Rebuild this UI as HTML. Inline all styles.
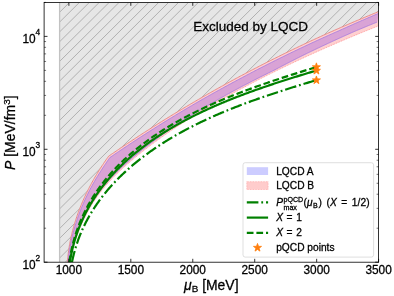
<!DOCTYPE html>
<html><head><meta charset="utf-8"><style>
html,body{margin:0;padding:0;background:#fff;}
text{stroke:#000;stroke-width:0.28px;paint-order:stroke;} svg{display:block;will-change:transform;transform:translateZ(0);font-family:"Liberation Sans",sans-serif;}
</style></head><body>
<svg width="394" height="296" viewBox="0 0 394 296">
<rect width="394" height="296" fill="#fff"/>
<defs><clipPath id="ax"><rect x="44.1" y="2.4" width="334.5" height="259.8"/></clipPath>
<clipPath id="gp"><path d="M59.60,262.20 L59.60,2.40 L378.60,2.40 L378.61,11.62 L377.18,12.20 L375.75,12.78 L374.32,13.36 L372.89,13.94 L371.46,14.53 L370.03,15.11 L368.60,15.70 L367.17,16.29 L365.75,16.88 L364.32,17.47 L362.90,18.06 L361.47,18.66 L360.05,19.26 L358.63,19.85 L357.20,20.45 L355.78,21.05 L354.36,21.66 L352.94,22.26 L351.52,22.87 L350.10,23.47 L348.68,24.08 L347.26,24.69 L345.85,25.30 L344.43,25.92 L343.02,26.53 L341.60,27.15 L340.19,27.77 L338.77,28.38 L337.36,29.00 L335.95,29.63 L334.54,30.25 L333.13,30.88 L331.72,31.50 L330.31,32.13 L328.90,32.76 L327.49,33.39 L326.08,34.02 L324.68,34.66 L323.27,35.29 L321.87,35.93 L320.46,36.57 L319.06,37.21 L317.65,37.85 L316.25,38.49 L314.85,39.14 L313.45,39.78 L312.05,40.43 L310.65,41.08 L309.25,41.73 L307.85,42.38 L306.46,43.04 L305.06,43.69 L303.66,44.35 L302.27,45.01 L300.87,45.67 L299.48,46.33 L298.09,46.99 L296.70,47.66 L295.31,48.32 L293.91,48.99 L292.52,49.66 L291.14,50.33 L289.75,51.00 L288.36,51.67 L286.97,52.35 L285.59,53.02 L284.20,53.70 L282.82,54.38 L281.43,55.06 L280.05,55.74 L278.67,56.43 L277.29,57.11 L275.91,57.80 L274.53,58.49 L273.15,59.17 L271.77,59.87 L270.39,60.56 L269.01,61.25 L267.64,61.95 L266.26,62.64 L264.89,63.34 L263.51,64.04 L262.14,64.75 L260.77,65.45 L259.40,66.15 L258.03,66.86 L256.66,67.57 L255.29,68.28 L253.92,68.99 L252.55,69.70 L251.19,70.41 L249.82,71.13 L248.45,71.84 L247.09,72.56 L245.73,73.28 L244.36,74.00 L243.00,74.72 L241.64,75.45 L240.28,76.17 L238.92,76.90 L237.56,77.63 L236.20,78.36 L234.85,79.09 L233.49,79.82 L232.14,80.56 L230.78,81.29 L229.43,82.03 L228.07,82.77 L226.72,83.51 L225.37,84.25 L224.02,84.99 L222.67,85.74 L221.32,86.48 L219.97,87.23 L218.63,87.98 L217.28,88.73 L215.93,89.48 L214.59,90.24 L213.25,90.99 L211.90,91.75 L210.56,92.51 L209.22,93.27 L207.88,94.03 L206.54,94.79 L205.20,95.56 L203.86,96.32 L202.53,97.09 L201.19,97.86 L199.85,98.63 L198.52,99.40 L197.19,100.17 L195.85,100.95 L194.52,101.72 L193.19,102.50 L191.86,103.28 L190.53,104.06 L189.20,104.84 L187.88,105.62 L186.55,106.41 L185.22,107.20 L183.90,107.98 L182.57,108.77 L181.25,109.56 L179.93,110.36 L178.61,111.15 L177.29,111.94 L175.97,112.74 L174.65,113.54 L173.33,114.34 L172.01,115.14 L170.70,115.94 L169.38,116.75 L168.07,117.55 L166.75,118.36 L165.44,119.17 L164.13,119.98 L162.82,120.79 L161.51,121.60 L160.20,122.42 L158.89,123.23 L157.59,124.05 L156.28,124.87 L154.97,125.69 L153.67,126.51 L152.37,127.34 L151.06,128.16 L149.76,128.99 L148.46,129.81 L147.16,130.64 L145.86,131.47 L144.57,132.31 L143.27,133.14 L141.97,133.98 L140.68,134.81 L139.38,135.65 L138.09,136.49 L136.80,137.33 L135.51,138.17 L134.22,139.02 L132.93,139.86 L131.64,140.71 L130.35,141.56 L129.06,142.41 L127.78,143.26 L126.49,144.11 L125.21,144.97 L123.93,145.82 L122.64,146.68 L121.36,147.54 L120.08,148.40 L118.80,149.26 L117.52,150.13 L116.25,150.99 L114.97,151.86 L113.70,152.72 L112.42,153.59 L111.15,154.46 L109.88,155.34 L108.61,156.20 L107.76,157.39 L106.92,158.58 L106.08,159.77 L105.25,160.97 L104.43,162.17 L103.61,163.38 L102.80,164.60 L102.00,165.81 L101.20,167.04 L100.41,168.26 L99.63,169.50 L98.85,170.73 L98.08,171.97 L97.32,173.22 L96.57,174.47 L95.82,175.72 L95.08,176.98 L94.35,178.24 L93.63,179.51 L92.91,180.78 L92.20,182.06 L91.50,183.34 L90.81,184.62 L90.12,185.91 L89.45,187.21 L88.78,188.50 L88.12,189.80 L87.47,191.11 L86.83,192.42 L86.19,193.73 L85.57,195.05 L84.95,196.37 L84.34,197.69 L83.74,199.02 L83.15,200.35 L82.57,201.69 L82.00,203.03 L81.44,204.37 L80.88,205.72 L80.34,207.07 L79.80,208.42 L79.28,209.78 L78.76,211.14 L78.26,212.51 L77.76,213.88 L77.28,215.25 L76.80,216.62 L76.34,218.00 L75.88,219.38 L75.44,220.77 L75.00,222.16 L74.58,223.55 L74.17,224.94 L73.76,226.34 L73.37,227.74 L72.99,229.14 L72.62,230.55 L72.26,231.96 L71.91,233.37 L71.58,234.79 L71.25,236.21 L70.93,237.63 L70.63,239.05 L70.34,240.48 L70.06,241.91 L69.79,243.34 L69.53,244.78 L69.29,246.22 L69.06,247.66 L68.84,249.10 L68.63,250.55 L68.43,252.00 L68.25,253.45 L68.07,254.90 L67.91,256.36 L67.77,257.81 L67.63,259.28 L67.51,260.74 L67.40,262.20Z"/></clipPath></defs>
<g clip-path="url(#ax)">
<path d="M59.60,262.20 L59.60,2.40 L378.60,2.40 L378.61,11.62 L377.18,12.20 L375.75,12.78 L374.32,13.36 L372.89,13.94 L371.46,14.53 L370.03,15.11 L368.60,15.70 L367.17,16.29 L365.75,16.88 L364.32,17.47 L362.90,18.06 L361.47,18.66 L360.05,19.26 L358.63,19.85 L357.20,20.45 L355.78,21.05 L354.36,21.66 L352.94,22.26 L351.52,22.87 L350.10,23.47 L348.68,24.08 L347.26,24.69 L345.85,25.30 L344.43,25.92 L343.02,26.53 L341.60,27.15 L340.19,27.77 L338.77,28.38 L337.36,29.00 L335.95,29.63 L334.54,30.25 L333.13,30.88 L331.72,31.50 L330.31,32.13 L328.90,32.76 L327.49,33.39 L326.08,34.02 L324.68,34.66 L323.27,35.29 L321.87,35.93 L320.46,36.57 L319.06,37.21 L317.65,37.85 L316.25,38.49 L314.85,39.14 L313.45,39.78 L312.05,40.43 L310.65,41.08 L309.25,41.73 L307.85,42.38 L306.46,43.04 L305.06,43.69 L303.66,44.35 L302.27,45.01 L300.87,45.67 L299.48,46.33 L298.09,46.99 L296.70,47.66 L295.31,48.32 L293.91,48.99 L292.52,49.66 L291.14,50.33 L289.75,51.00 L288.36,51.67 L286.97,52.35 L285.59,53.02 L284.20,53.70 L282.82,54.38 L281.43,55.06 L280.05,55.74 L278.67,56.43 L277.29,57.11 L275.91,57.80 L274.53,58.49 L273.15,59.17 L271.77,59.87 L270.39,60.56 L269.01,61.25 L267.64,61.95 L266.26,62.64 L264.89,63.34 L263.51,64.04 L262.14,64.75 L260.77,65.45 L259.40,66.15 L258.03,66.86 L256.66,67.57 L255.29,68.28 L253.92,68.99 L252.55,69.70 L251.19,70.41 L249.82,71.13 L248.45,71.84 L247.09,72.56 L245.73,73.28 L244.36,74.00 L243.00,74.72 L241.64,75.45 L240.28,76.17 L238.92,76.90 L237.56,77.63 L236.20,78.36 L234.85,79.09 L233.49,79.82 L232.14,80.56 L230.78,81.29 L229.43,82.03 L228.07,82.77 L226.72,83.51 L225.37,84.25 L224.02,84.99 L222.67,85.74 L221.32,86.48 L219.97,87.23 L218.63,87.98 L217.28,88.73 L215.93,89.48 L214.59,90.24 L213.25,90.99 L211.90,91.75 L210.56,92.51 L209.22,93.27 L207.88,94.03 L206.54,94.79 L205.20,95.56 L203.86,96.32 L202.53,97.09 L201.19,97.86 L199.85,98.63 L198.52,99.40 L197.19,100.17 L195.85,100.95 L194.52,101.72 L193.19,102.50 L191.86,103.28 L190.53,104.06 L189.20,104.84 L187.88,105.62 L186.55,106.41 L185.22,107.20 L183.90,107.98 L182.57,108.77 L181.25,109.56 L179.93,110.36 L178.61,111.15 L177.29,111.94 L175.97,112.74 L174.65,113.54 L173.33,114.34 L172.01,115.14 L170.70,115.94 L169.38,116.75 L168.07,117.55 L166.75,118.36 L165.44,119.17 L164.13,119.98 L162.82,120.79 L161.51,121.60 L160.20,122.42 L158.89,123.23 L157.59,124.05 L156.28,124.87 L154.97,125.69 L153.67,126.51 L152.37,127.34 L151.06,128.16 L149.76,128.99 L148.46,129.81 L147.16,130.64 L145.86,131.47 L144.57,132.31 L143.27,133.14 L141.97,133.98 L140.68,134.81 L139.38,135.65 L138.09,136.49 L136.80,137.33 L135.51,138.17 L134.22,139.02 L132.93,139.86 L131.64,140.71 L130.35,141.56 L129.06,142.41 L127.78,143.26 L126.49,144.11 L125.21,144.97 L123.93,145.82 L122.64,146.68 L121.36,147.54 L120.08,148.40 L118.80,149.26 L117.52,150.13 L116.25,150.99 L114.97,151.86 L113.70,152.72 L112.42,153.59 L111.15,154.46 L109.88,155.34 L108.61,156.20 L107.76,157.39 L106.92,158.58 L106.08,159.77 L105.25,160.97 L104.43,162.17 L103.61,163.38 L102.80,164.60 L102.00,165.81 L101.20,167.04 L100.41,168.26 L99.63,169.50 L98.85,170.73 L98.08,171.97 L97.32,173.22 L96.57,174.47 L95.82,175.72 L95.08,176.98 L94.35,178.24 L93.63,179.51 L92.91,180.78 L92.20,182.06 L91.50,183.34 L90.81,184.62 L90.12,185.91 L89.45,187.21 L88.78,188.50 L88.12,189.80 L87.47,191.11 L86.83,192.42 L86.19,193.73 L85.57,195.05 L84.95,196.37 L84.34,197.69 L83.74,199.02 L83.15,200.35 L82.57,201.69 L82.00,203.03 L81.44,204.37 L80.88,205.72 L80.34,207.07 L79.80,208.42 L79.28,209.78 L78.76,211.14 L78.26,212.51 L77.76,213.88 L77.28,215.25 L76.80,216.62 L76.34,218.00 L75.88,219.38 L75.44,220.77 L75.00,222.16 L74.58,223.55 L74.17,224.94 L73.76,226.34 L73.37,227.74 L72.99,229.14 L72.62,230.55 L72.26,231.96 L71.91,233.37 L71.58,234.79 L71.25,236.21 L70.93,237.63 L70.63,239.05 L70.34,240.48 L70.06,241.91 L69.79,243.34 L69.53,244.78 L69.29,246.22 L69.06,247.66 L68.84,249.10 L68.63,250.55 L68.43,252.00 L68.25,253.45 L68.07,254.90 L67.91,256.36 L67.77,257.81 L67.63,259.28 L67.51,260.74 L67.40,262.20Z" fill="#e6e6e6"/>
<g clip-path="url(#gp)"><path d="M-280.04,300 L32.48,-10 M-270.13,300 L42.39,-10 M-260.22,300 L52.30,-10 M-250.31,300 L62.21,-10 M-240.40,300 L72.12,-10 M-230.49,300 L82.03,-10 M-220.58,300 L91.94,-10 M-210.67,300 L101.85,-10 M-200.76,300 L111.76,-10 M-190.85,300 L121.67,-10 M-180.94,300 L131.58,-10 M-171.03,300 L141.49,-10 M-161.12,300 L151.40,-10 M-151.21,300 L161.31,-10 M-141.30,300 L171.22,-10 M-131.39,300 L181.13,-10 M-121.48,300 L191.04,-10 M-111.57,300 L200.95,-10 M-101.66,300 L210.86,-10 M-91.75,300 L220.77,-10 M-81.84,300 L230.68,-10 M-71.93,300 L240.59,-10 M-62.02,300 L250.50,-10 M-52.11,300 L260.41,-10 M-42.20,300 L270.32,-10 M-32.29,300 L280.23,-10 M-22.38,300 L290.14,-10 M-12.47,300 L300.05,-10 M-2.56,300 L309.96,-10 M7.35,300 L319.87,-10 M17.26,300 L329.78,-10 M27.17,300 L339.69,-10 M37.08,300 L349.60,-10 M46.99,300 L359.51,-10 M56.90,300 L369.42,-10 M66.81,300 L379.33,-10 M76.72,300 L389.24,-10 M86.63,300 L399.15,-10 M96.54,300 L409.06,-10 M106.45,300 L418.97,-10 M116.36,300 L428.88,-10 M126.27,300 L438.79,-10 M136.18,300 L448.70,-10 M146.09,300 L458.61,-10 M156.00,300 L468.52,-10 M165.91,300 L478.43,-10 M175.82,300 L488.34,-10 M185.73,300 L498.25,-10 M195.64,300 L508.16,-10 M205.55,300 L518.07,-10 M215.46,300 L527.98,-10 M225.37,300 L537.89,-10 M235.28,300 L547.80,-10 M245.19,300 L557.71,-10 M255.10,300 L567.62,-10 M265.01,300 L577.53,-10 M274.92,300 L587.44,-10 M284.83,300 L597.35,-10 M294.74,300 L607.26,-10 M304.65,300 L617.17,-10 M314.56,300 L627.08,-10 M324.47,300 L636.99,-10 M334.38,300 L646.90,-10 M344.29,300 L656.81,-10 M354.20,300 L666.72,-10 M364.11,300 L676.63,-10 M374.02,300 L686.54,-10 M383.93,300 L696.45,-10 M393.84,300 L706.36,-10 M403.75,300 L716.27,-10 M413.66,300 L726.18,-10 M423.57,300 L736.09,-10 M433.48,300 L746.00,-10 M443.39,300 L755.91,-10 M453.30,300 L765.82,-10" stroke="#858585" stroke-width="0.55" fill="none"/></g>
<path d="M59.6,262.2 V2.4" stroke="#c2c2c2" stroke-width="1.3" fill="none"/>
<path d="M67.40,262.20 L67.51,260.74 L67.63,259.28 L67.77,257.81 L67.91,256.36 L68.07,254.90 L68.25,253.45 L68.43,252.00 L68.63,250.55 L68.84,249.10 L69.06,247.66 L69.29,246.22 L69.53,244.78 L69.79,243.34 L70.06,241.91 L70.34,240.48 L70.63,239.05 L70.93,237.63 L71.25,236.21 L71.58,234.79 L71.91,233.37 L72.26,231.96 L72.62,230.55 L72.99,229.14 L73.37,227.74 L73.76,226.34 L74.17,224.94 L74.58,223.55 L75.00,222.16 L75.44,220.77 L75.88,219.38 L76.34,218.00 L76.80,216.62 L77.28,215.25 L77.76,213.88 L78.26,212.51 L78.76,211.14 L79.28,209.78 L79.80,208.42 L80.34,207.07 L80.88,205.72 L81.44,204.37 L82.00,203.03 L82.57,201.69 L83.15,200.35 L83.74,199.02 L84.34,197.69 L84.95,196.37 L85.57,195.05 L86.19,193.73 L86.83,192.42 L87.47,191.11 L88.12,189.80 L88.78,188.50 L89.45,187.21 L90.12,185.91 L90.81,184.62 L91.50,183.34 L92.20,182.06 L92.91,180.78 L93.63,179.51 L94.35,178.24 L95.08,176.98 L95.82,175.72 L96.57,174.47 L97.32,173.22 L98.08,171.97 L98.85,170.73 L99.63,169.50 L100.41,168.26 L101.20,167.04 L102.00,165.81 L102.80,164.60 L103.61,163.38 L104.43,162.17 L105.25,160.97 L106.08,159.77 L106.92,158.58 L107.76,157.39 L108.61,156.20 L109.88,155.34 L111.15,154.46 L112.42,153.59 L113.70,152.72 L114.97,151.86 L116.25,150.99 L117.52,150.13 L118.80,149.26 L120.08,148.40 L121.36,147.54 L122.64,146.68 L123.93,145.82 L125.21,144.97 L126.49,144.11 L127.78,143.26 L129.06,142.41 L130.35,141.56 L131.64,140.71 L132.93,139.86 L134.22,139.02 L135.51,138.17 L136.80,137.33 L138.09,136.49 L139.38,135.65 L140.68,134.81 L141.97,133.98 L143.27,133.14 L144.57,132.31 L145.86,131.47 L147.16,130.64 L148.46,129.81 L149.76,128.99 L151.06,128.16 L152.37,127.34 L153.67,126.51 L154.97,125.69 L156.28,124.87 L157.59,124.05 L158.89,123.23 L160.20,122.42 L161.51,121.60 L162.82,120.79 L164.13,119.98 L165.44,119.17 L166.75,118.36 L168.07,117.55 L169.38,116.75 L170.70,115.94 L172.01,115.14 L173.33,114.34 L174.65,113.54 L175.97,112.74 L177.29,111.94 L178.61,111.15 L179.93,110.36 L181.25,109.56 L182.57,108.77 L183.90,107.98 L185.22,107.20 L186.55,106.41 L187.88,105.62 L189.20,104.84 L190.53,104.06 L191.86,103.28 L193.19,102.50 L194.52,101.72 L195.85,100.95 L197.19,100.17 L198.52,99.40 L199.85,98.63 L201.19,97.86 L202.53,97.09 L203.86,96.32 L205.20,95.56 L206.54,94.79 L207.88,94.03 L209.22,93.27 L210.56,92.51 L211.90,91.75 L213.25,90.99 L214.59,90.24 L215.93,89.48 L217.28,88.73 L218.63,87.98 L219.97,87.23 L221.32,86.48 L222.67,85.74 L224.02,84.99 L225.37,84.25 L226.72,83.51 L228.07,82.77 L229.43,82.03 L230.78,81.29 L232.14,80.56 L233.49,79.82 L234.85,79.09 L236.20,78.36 L237.56,77.63 L238.92,76.90 L240.28,76.17 L241.64,75.45 L243.00,74.72 L244.36,74.00 L245.73,73.28 L247.09,72.56 L248.45,71.84 L249.82,71.13 L251.19,70.41 L252.55,69.70 L253.92,68.99 L255.29,68.28 L256.66,67.57 L258.03,66.86 L259.40,66.15 L260.77,65.45 L262.14,64.75 L263.51,64.04 L264.89,63.34 L266.26,62.64 L267.64,61.95 L269.01,61.25 L270.39,60.56 L271.77,59.87 L273.15,59.17 L274.53,58.49 L275.91,57.80 L277.29,57.11 L278.67,56.43 L280.05,55.74 L281.43,55.06 L282.82,54.38 L284.20,53.70 L285.59,53.02 L286.97,52.35 L288.36,51.67 L289.75,51.00 L291.14,50.33 L292.52,49.66 L293.91,48.99 L295.31,48.32 L296.70,47.66 L298.09,46.99 L299.48,46.33 L300.87,45.67 L302.27,45.01 L303.66,44.35 L305.06,43.69 L306.46,43.04 L307.85,42.38 L309.25,41.73 L310.65,41.08 L312.05,40.43 L313.45,39.78 L314.85,39.14 L316.25,38.49 L317.65,37.85 L319.06,37.21 L320.46,36.57 L321.87,35.93 L323.27,35.29 L324.68,34.66 L326.08,34.02 L327.49,33.39 L328.90,32.76 L330.31,32.13 L331.72,31.50 L333.13,30.88 L334.54,30.25 L335.95,29.63 L337.36,29.00 L338.77,28.38 L340.19,27.77 L341.60,27.15 L343.02,26.53 L344.43,25.92 L345.85,25.30 L347.26,24.69 L348.68,24.08 L350.10,23.47 L351.52,22.87 L352.94,22.26 L354.36,21.66 L355.78,21.05 L357.20,20.45 L358.63,19.85 L360.05,19.26 L361.47,18.66 L362.90,18.06 L364.32,17.47 L365.75,16.88 L367.17,16.29 L368.60,15.70 L370.03,15.11 L371.46,14.53 L372.89,13.94 L374.32,13.36 L375.75,12.78 L377.18,12.20 L378.61,11.62 L378.60,25.80 L377.66,26.17 L376.72,26.55 L375.77,26.92 L374.83,27.30 L373.89,27.67 L372.95,28.05 L372.01,28.42 L371.07,28.80 L370.13,29.18 L369.18,29.56 L368.24,29.94 L367.30,30.32 L366.37,30.70 L365.43,31.08 L364.49,31.46 L363.55,31.84 L362.61,32.22 L361.67,32.61 L360.73,32.99 L359.80,33.37 L358.86,33.76 L357.92,34.14 L356.98,34.53 L356.05,34.92 L355.11,35.30 L354.18,35.69 L353.24,36.08 L352.30,36.47 L351.37,36.86 L350.43,37.25 L349.50,37.64 L348.57,38.03 L347.63,38.42 L346.70,38.82 L345.77,39.21 L344.83,39.60 L343.90,40.00 L342.97,40.39 L342.04,40.79 L341.10,41.19 L340.17,41.58 L339.24,41.98 L338.31,42.38 L337.38,42.78 L336.45,43.18 L335.52,43.58 L334.59,43.98 L333.66,44.38 L332.73,44.78 L331.80,45.19 L330.87,45.59 L329.94,45.99 L329.02,46.40 L328.09,46.80 L327.16,47.21 L326.24,47.62 L325.31,48.02 L324.38,48.43 L323.46,48.84 L322.53,49.25 L321.61,49.66 L320.68,50.07 L319.76,50.48 L318.83,50.89 L317.91,51.31 L316.98,51.72 L316.06,52.13 L315.14,52.55 L314.21,52.96 L313.29,53.38 L312.37,53.80 L311.45,54.22 L310.53,54.63 L309.60,55.05 L308.68,55.47 L307.76,55.89 L306.84,56.31 L305.92,56.74 L305.00,57.16 L304.08,57.58 L303.17,58.00 L302.25,58.43 L301.33,58.85 L300.41,59.28 L299.49,59.71 L298.58,60.13 L297.66,60.56 L296.74,60.99 L295.83,61.42 L294.91,61.85 L294.00,62.28 L293.08,62.71 L292.17,63.15 L291.25,63.58 L290.34,64.01 L289.42,64.45 L288.51,64.88 L287.60,65.32 L286.69,65.76 L285.77,66.19 L284.86,66.63 L283.95,67.07 L283.04,67.51 L282.13,67.95 L281.22,68.39 L280.31,68.84 L279.40,69.28 L278.49,69.72 L277.58,70.17 L276.67,70.61 L275.76,71.06 L274.85,71.50 L273.95,71.95 L273.04,72.40 L272.13,72.85 L271.22,73.30 L270.32,73.75 L269.41,74.20 L268.51,74.65 L267.60,75.11 L266.70,75.56 L265.79,76.01 L264.89,76.47 L263.99,76.93 L263.08,77.38 L262.18,77.84 L261.28,78.30 L260.38,78.76 L259.47,79.22 L258.57,79.68 L257.67,80.14 L256.77,80.60 L255.87,81.07 L254.97,81.53 L254.07,81.99 L253.17,82.46 L252.27,82.93 L251.38,83.39 L250.48,83.86 L249.58,84.33 L248.68,84.80 L247.79,85.27 L246.89,85.74 L245.99,86.22 L245.10,86.69 L244.20,87.16 L243.31,87.64 L242.41,88.11 L241.52,88.59 L240.63,89.07 L239.73,89.54 L238.84,90.02 L237.95,90.50 L237.06,90.98 L236.16,91.47 L235.27,91.95 L234.38,92.43 L233.49,92.92 L232.60,93.40 L231.71,93.89 L230.82,94.37 L229.94,94.86 L229.05,95.35 L228.16,95.84 L227.27,96.33 L226.39,96.82 L225.50,97.31 L224.61,97.81 L223.73,98.30 L222.84,98.79 L221.96,99.29 L221.08,99.79 L220.19,100.29 L219.31,100.78 L218.43,101.28 L217.55,101.79 L216.67,102.29 L215.79,102.79 L214.91,103.30 L214.03,103.80 L213.15,104.31 L212.27,104.81 L211.39,105.32 L210.52,105.83 L209.64,106.34 L208.77,106.86 L207.89,107.37 L207.02,107.88 L206.15,108.40 L205.27,108.91 L204.40,109.43 L203.53,109.95 L202.66,110.47 L201.79,110.99 L200.92,111.51 L200.05,112.04 L199.19,112.56 L198.32,113.09 L197.45,113.61 L196.59,114.14 L195.72,114.67 L194.86,115.20 L194.00,115.74 L193.14,116.27 L192.28,116.80 L191.42,117.34 L190.56,117.88 L189.70,118.41 L188.84,118.95 L187.98,119.50 L187.13,120.04 L186.27,120.58 L185.42,121.13 L184.57,121.67 L183.72,122.22 L182.86,122.77 L182.01,123.32 L181.16,123.87 L180.32,124.43 L179.47,124.98 L178.62,125.54 L177.78,126.10 L176.93,126.66 L176.09,127.22 L175.25,127.78 L174.41,128.34 L173.57,128.91 L172.73,129.47 L171.89,130.04 L171.05,130.61 L170.22,131.18 L169.38,131.76 L168.55,132.33 L167.71,132.91 L166.88,133.48 L166.05,134.06 L165.22,134.64 L164.39,135.22 L163.57,135.81 L162.74,136.39 L161.92,136.98 L161.09,137.57 L160.27,138.16 L159.45,138.75 L158.63,139.34 L157.81,139.94 L156.99,140.53 L156.18,141.13 L155.36,141.73 L154.55,142.33 L153.73,142.94 L152.92,143.54 L152.11,144.15 L151.30,144.76 L150.49,145.37 L149.69,145.98 L148.88,146.59 L148.08,147.21 L147.28,147.83 L146.48,148.45 L145.68,149.07 L144.88,149.69 L144.08,150.31 L143.28,150.94 L142.49,151.57 L141.70,152.20 L140.90,152.83 L140.11,153.46 L139.33,154.10 L138.54,154.73 L137.75,155.37 L136.97,156.01 L136.18,156.66 L135.40,157.30 L134.62,157.95 L133.84,158.60 L133.07,159.25 L132.29,159.90 L131.52,160.55 L130.74,161.21 L129.97,161.87 L129.20,162.53 L128.44,163.19 L127.67,163.86 L126.90,164.52 L126.14,165.19 L125.38,165.86 L124.62,166.54 L123.87,167.21 L123.11,167.89 L122.36,168.57 L121.62,169.26 L120.87,169.94 L120.13,170.63 L119.39,171.33 L118.65,172.02 L117.92,172.72 L117.19,173.42 L116.46,174.13 L115.74,174.84 L115.02,175.55 L114.31,176.27 L113.59,176.99 L112.89,177.71 L112.18,178.44 L111.48,179.17 L110.79,179.90 L110.10,180.64 L109.41,181.38 L108.73,182.13 L108.06,182.88 L107.38,183.64 L106.72,184.39 L106.06,185.16 L105.40,185.93 L104.75,186.70 L104.10,187.48 L103.46,188.26 L102.83,189.05 L102.20,189.84 L101.57,190.63 L100.96,191.43 L100.34,192.23 L99.73,193.04 L99.13,193.85 L98.53,194.67 L97.94,195.49 L97.35,196.31 L96.77,197.14 L96.19,197.97 L95.62,198.80 L95.05,199.64 L94.49,200.48 L93.94,201.33 L93.39,202.18 L92.84,203.04 L92.30,203.89 L91.77,204.75 L91.24,205.62 L90.72,206.49 L90.20,207.36 L89.68,208.23 L89.18,209.11 L88.67,209.99 L88.18,210.87 L87.68,211.76 L87.20,212.65 L86.72,213.55 L86.24,214.44 L85.77,215.34 L85.31,216.24 L84.85,217.15 L84.39,218.06 L83.94,218.97 L83.50,219.88 L83.06,220.80 L82.63,221.72 L82.20,222.64 L81.78,223.57 L81.36,224.50 L80.95,225.43 L80.54,226.36 L80.14,227.29 L79.75,228.23 L79.36,229.17 L78.97,230.11 L78.59,231.06 L78.22,232.00 L77.85,232.95 L77.49,233.90 L77.13,234.85 L76.78,235.81 L76.43,236.77 L76.09,237.73 L75.75,238.69 L75.42,239.65 L75.10,240.61 L74.78,241.58 L74.46,242.55 L74.16,243.52 L73.85,244.49 L73.55,245.46 L73.26,246.44 L72.97,247.41 L72.69,248.39 L72.41,249.37 L72.14,250.35 L71.88,251.33 L71.62,252.31 L71.36,253.30 L71.11,254.28 L70.87,255.27 L70.63,256.26 L70.40,257.25 L70.17,258.24 L69.95,259.23 L69.73,260.22 L69.52,261.21 L69.31,262.21Z" fill="#ffd0d0"/>
<path d="M68.13,262.26 L68.24,260.80 L68.37,259.34 L68.51,257.89 L68.67,256.44 L68.84,254.99 L69.02,253.54 L69.21,252.10 L69.42,250.66 L69.64,249.22 L69.88,247.79 L70.12,246.36 L70.38,244.93 L70.65,243.50 L70.94,242.08 L71.23,240.66 L71.54,239.24 L71.86,237.83 L72.19,236.42 L72.54,235.01 L72.89,233.61 L73.26,232.21 L73.64,230.81 L74.03,229.42 L74.43,228.03 L74.84,226.65 L75.27,225.26 L75.70,223.88 L76.15,222.51 L76.59,221.13 L77.04,219.76 L77.51,218.39 L77.98,217.02 L78.46,215.66 L78.96,214.30 L79.46,212.95 L79.97,211.60 L80.50,210.25 L81.03,208.90 L81.57,207.56 L82.12,206.22 L82.69,204.89 L83.26,203.56 L83.84,202.24 L84.43,200.91 L85.03,199.60 L85.64,198.28 L86.25,196.97 L86.88,195.67 L87.52,194.37 L88.16,193.07 L88.81,191.77 L89.47,190.48 L90.14,189.20 L90.82,187.92 L91.51,186.64 L92.20,185.37 L92.90,184.10 L93.61,182.84 L94.33,181.58 L95.06,180.32 L95.79,179.07 L96.54,177.83 L97.28,176.59 L98.04,175.35 L98.81,174.12 L99.58,172.89 L100.36,171.67 L101.14,170.45 L101.93,169.23 L102.71,168.02 L103.50,166.80 L104.30,165.59 L105.11,164.39 L105.92,163.19 L106.74,161.99 L107.56,160.80 L108.39,159.62 L109.23,158.44 L109.86,157.50 L110.90,156.83 L112.17,155.96 L113.44,155.09 L114.72,154.22 L115.99,153.36 L117.27,152.49 L118.54,151.63 L119.82,150.77 L121.10,149.91 L122.38,149.05 L123.66,148.20 L124.94,147.34 L126.22,146.49 L127.50,145.63 L128.79,144.78 L130.07,143.93 L131.36,143.09 L132.64,142.24 L133.93,141.40 L135.22,140.55 L136.51,139.71 L137.80,138.87 L139.09,138.03 L140.38,137.19 L141.68,136.36 L142.97,135.52 L144.27,134.69 L145.56,133.86 L146.86,133.03 L148.16,132.20 L149.46,131.37 L150.75,130.55 L152.06,129.72 L153.36,128.90 L154.66,128.08 L155.96,127.26 L157.27,126.44 L158.57,125.63 L159.88,124.81 L161.18,124.00 L162.49,123.18 L163.80,122.37 L165.11,121.56 L166.42,120.76 L167.73,119.95 L169.05,119.15 L170.36,118.34 L171.67,117.54 L172.99,116.74 L174.30,115.94 L175.62,115.14 L176.94,114.35 L178.26,113.55 L179.58,112.76 L180.90,111.97 L182.22,111.18 L183.54,110.39 L184.86,109.60 L186.19,108.82 L187.51,108.03 L188.84,107.25 L190.16,106.47 L191.49,105.69 L192.82,104.91 L194.15,104.13 L195.48,103.36 L196.81,102.58 L198.14,101.81 L199.47,101.04 L200.80,100.27 L202.14,99.51 L203.48,98.75 L204.82,97.99 L206.16,97.23 L207.50,96.47 L208.84,95.71 L210.18,94.96 L211.52,94.21 L212.87,93.46 L214.21,92.71 L215.56,91.96 L216.90,91.21 L218.25,90.47 L219.60,89.72 L220.94,88.98 L222.29,88.24 L223.64,87.50 L225.00,86.76 L226.35,86.03 L227.70,85.29 L229.05,84.56 L230.41,83.83 L231.76,83.10 L233.12,82.37 L234.47,81.64 L235.83,80.91 L237.19,80.19 L238.55,79.47 L239.91,78.75 L241.27,78.03 L242.63,77.30 L243.99,76.58 L245.35,75.86 L246.71,75.14 L248.07,74.42 L249.43,73.71 L250.80,72.99 L252.16,72.28 L253.53,71.57 L254.89,70.86 L256.26,70.15 L257.63,69.45 L259.00,68.74 L260.37,68.04 L261.74,67.34 L263.11,66.63 L264.48,65.94 L265.85,65.24 L267.22,64.54 L268.60,63.85 L269.97,63.15 L271.35,62.46 L272.72,61.77 L274.10,61.08 L275.48,60.39 L276.86,59.71 L278.24,59.02 L279.62,58.34 L281.00,57.66 L282.38,56.98 L283.76,56.30 L285.14,55.63 L286.53,54.95 L287.91,54.28 L289.30,53.60 L290.68,52.93 L292.07,52.26 L293.46,51.60 L294.85,50.93 L296.24,50.26 L297.63,49.60 L299.02,48.94 L300.41,48.28 L301.80,47.62 L303.19,46.96 L304.59,46.31 L305.98,45.65 L307.38,45.00 L308.77,44.35 L310.17,43.70 L311.56,43.05 L312.96,42.40 L314.36,41.76 L315.76,41.11 L317.16,40.47 L318.56,39.83 L319.96,39.19 L321.36,38.55 L322.77,37.92 L324.17,37.28 L325.58,36.65 L326.98,36.02 L328.39,35.39 L329.79,34.76 L331.20,34.13 L332.61,33.50 L334.02,32.88 L335.42,32.26 L336.83,31.64 L338.25,31.02 L339.66,30.40 L341.07,29.78 L342.47,29.14 L343.87,28.51 L345.28,27.87 L346.68,27.24 L348.09,26.61 L349.50,25.98 L350.91,25.35 L352.31,24.73 L353.72,24.10 L355.13,23.48 L356.54,22.85 L357.95,22.23 L359.37,21.61 L360.78,21.00 L362.19,20.38 L363.61,19.77 L365.02,19.15 L366.44,18.54 L367.85,17.93 L369.27,17.32 L370.69,16.72 L372.11,16.11 L373.52,15.51 L374.94,14.90 L376.36,14.30 L377.79,13.70 L379.21,13.10 L377.13,22.08 L376.19,22.46 L375.25,22.84 L374.30,23.23 L373.36,23.61 L372.42,23.99 L371.48,24.38 L370.54,24.76 L369.60,25.15 L368.66,25.54 L367.72,25.92 L366.78,26.31 L365.84,26.70 L364.90,27.09 L363.96,27.47 L363.03,27.86 L362.09,28.25 L361.15,28.65 L360.21,29.04 L359.28,29.43 L358.34,29.82 L357.40,30.21 L356.47,30.61 L355.53,31.00 L354.59,31.40 L353.66,31.79 L352.73,32.20 L351.80,32.61 L350.87,33.03 L349.94,33.44 L349.02,33.85 L348.09,34.27 L347.16,34.68 L346.23,35.10 L345.31,35.51 L344.38,35.93 L343.46,36.35 L342.53,36.77 L341.61,37.18 L340.68,37.60 L339.76,38.02 L338.83,38.44 L337.91,38.86 L336.98,39.28 L336.06,39.71 L335.14,40.13 L334.22,40.55 L333.29,40.98 L332.37,41.40 L331.45,41.83 L330.53,42.25 L329.61,42.68 L328.69,43.11 L327.77,43.53 L326.85,43.96 L325.93,44.39 L325.01,44.82 L324.09,45.25 L323.17,45.68 L322.25,46.11 L321.33,46.55 L320.42,46.98 L319.50,47.41 L318.58,47.85 L317.67,48.28 L316.75,48.72 L315.83,49.15 L314.92,49.59 L314.00,50.03 L313.09,50.47 L312.17,50.91 L311.26,51.35 L310.35,51.79 L309.43,52.23 L308.52,52.67 L307.61,53.11 L306.69,53.55 L305.78,54.00 L304.87,54.44 L303.96,54.89 L303.05,55.34 L302.14,55.79 L301.24,56.24 L300.33,56.70 L299.42,57.15 L298.52,57.61 L297.61,58.06 L296.70,58.52 L295.80,58.98 L294.89,59.43 L293.99,59.89 L293.09,60.35 L292.18,60.81 L291.28,61.27 L290.38,61.73 L289.47,62.20 L288.57,62.66 L287.67,63.12 L286.77,63.59 L285.87,64.05 L284.97,64.52 L284.07,64.98 L283.17,65.45 L282.27,65.92 L281.37,66.39 L280.47,66.86 L279.57,67.33 L278.68,67.80 L277.78,68.27 L276.88,68.74 L275.98,69.22 L275.09,69.69 L274.19,70.16 L273.28,70.60 L272.37,71.05 L271.46,71.49 L270.55,71.94 L269.64,72.39 L268.73,72.83 L267.82,73.28 L266.91,73.73 L266.01,74.18 L265.10,74.63 L264.19,75.08 L263.28,75.54 L262.38,75.99 L261.47,76.45 L260.57,76.90 L259.66,77.36 L258.76,77.81 L257.85,78.27 L256.95,78.73 L256.04,79.19 L255.14,79.65 L254.24,80.11 L253.33,80.57 L252.43,81.03 L251.53,81.50 L250.63,81.96 L249.73,82.42 L248.83,82.89 L247.93,83.36 L247.03,83.82 L246.13,84.29 L245.23,84.76 L244.33,85.23 L243.43,85.70 L242.53,86.17 L241.63,86.64 L240.74,87.12 L239.84,87.59 L238.94,88.07 L238.05,88.54 L237.15,89.02 L236.25,89.50 L235.36,89.98 L234.46,90.45 L233.57,90.94 L232.68,91.42 L231.79,91.91 L230.90,92.40 L230.01,92.89 L229.12,93.38 L228.23,93.87 L227.35,94.36 L226.46,94.86 L225.57,95.35 L224.68,95.84 L223.80,96.34 L222.91,96.84 L222.03,97.33 L221.14,97.83 L220.26,98.33 L219.37,98.83 L218.49,99.33 L217.61,99.84 L216.72,100.34 L215.84,100.85 L214.96,101.35 L214.08,101.86 L213.20,102.37 L212.32,102.87 L211.44,103.38 L210.57,103.90 L209.69,104.41 L208.81,104.92 L207.94,105.44 L207.06,105.95 L206.19,106.47 L205.31,106.99 L204.44,107.51 L203.57,108.03 L202.69,108.55 L201.82,109.07 L200.95,109.59 L200.08,110.12 L199.21,110.64 L198.34,111.17 L197.48,111.70 L196.61,112.23 L195.74,112.76 L194.88,113.29 L194.01,113.83 L193.15,114.36 L192.29,114.90 L191.43,115.44 L190.56,115.97 L189.70,116.51 L188.84,117.06 L187.99,117.60 L187.13,118.14 L186.27,118.69 L185.42,119.24 L184.56,119.78 L183.71,120.33 L182.85,120.88 L182.00,121.44 L181.15,121.99 L180.30,122.54 L179.45,123.10 L178.60,123.66 L177.75,124.22 L176.91,124.78 L176.06,125.34 L175.22,125.91 L174.37,126.47 L173.53,127.04 L172.69,127.61 L171.85,128.18 L171.01,128.75 L170.17,129.32 L169.33,129.89 L168.50,130.47 L167.66,131.05 L166.83,131.62 L165.99,132.21 L165.16,132.79 L164.33,133.37 L163.50,133.96 L162.67,134.54 L161.84,135.13 L161.02,135.72 L160.19,136.31 L159.37,136.91 L158.55,137.50 L157.72,138.10 L156.90,138.70 L156.09,139.29 L155.27,139.90 L154.45,140.50 L153.63,141.10 L152.82,141.71 L152.01,142.32 L151.20,142.93 L150.38,143.54 L149.58,144.15 L148.77,144.77 L147.96,145.39 L147.16,146.01 L146.35,146.63 L145.55,147.25 L144.75,147.87 L143.95,148.50 L143.15,149.13 L142.35,149.76 L141.55,150.39 L140.76,151.02 L139.97,151.66 L139.17,152.29 L138.39,152.93 L137.60,153.58 L136.82,154.23 L136.04,154.88 L135.26,155.53 L134.48,156.18 L133.70,156.84 L132.92,157.49 L132.15,158.15 L131.38,158.81 L130.60,159.48 L129.83,160.14 L129.07,160.81 L128.30,161.48 L127.53,162.15 L126.77,162.82 L126.01,163.49 L125.25,164.17 L124.49,164.85 L123.73,165.53 L122.98,166.22 L122.23,166.91 L121.48,167.60 L120.73,168.29 L119.99,168.99 L119.25,169.69 L118.51,170.39 L117.77,171.09 L117.04,171.80 L116.31,172.52 L115.59,173.23 L114.86,173.95 L114.15,174.67 L113.43,175.40 L112.72,176.13 L112.01,176.86 L111.31,177.60 L110.61,178.34 L109.92,179.08 L109.23,179.83 L108.54,180.58 L107.86,181.34 L107.18,182.10 L106.51,182.87 L105.85,183.64 L105.19,184.41 L104.53,185.19 L103.88,185.97 L103.23,186.76 L102.59,187.55 L101.96,188.35 L101.33,189.15 L100.71,189.95 L100.09,190.76 L99.47,191.57 L98.87,192.39 L98.26,193.21 L97.67,194.04 L97.07,194.86 L96.49,195.70 L95.91,196.53 L95.33,197.37 L94.76,198.22 L94.19,199.07 L93.63,199.92 L93.08,200.77 L92.53,201.63 L91.99,202.49 L91.45,203.36 L90.92,204.23 L90.39,205.10 L89.87,205.98 L89.35,206.86 L88.84,207.74 L88.33,208.62 L87.83,209.51 L87.33,210.40 L86.84,211.30 L86.36,212.20 L85.88,213.10 L85.41,214.00 L84.94,214.91 L84.47,215.82 L84.02,216.73 L83.56,217.65 L83.12,218.57 L82.67,219.49 L82.24,220.41 L81.81,221.34 L81.38,222.27 L80.96,223.20 L80.55,224.14 L80.15,225.07 L79.75,226.01 L79.35,226.96 L78.97,227.90 L78.58,228.85 L78.20,229.80 L77.83,230.75 L77.46,231.71 L77.10,232.66 L76.74,233.62 L76.39,234.58 L76.05,235.54 L75.71,236.51 L75.37,237.47 L75.04,238.44 L74.72,239.41 L74.40,240.38 L74.08,241.35 L73.77,242.33 L73.47,243.30 L73.17,244.28 L72.88,245.26 L72.59,246.24 L72.31,247.22 L72.03,248.20 L71.76,249.19 L71.49,250.17 L71.23,251.16 L70.98,252.15 L70.73,253.14 L70.48,254.13 L70.24,255.12 L70.01,256.11 L69.78,257.10 L69.56,258.10 L69.34,259.09 L69.13,260.09 L68.92,261.09 L68.72,262.08Z" fill="#d9a3d6"/>
<path d="M67.40,262.20 L67.51,260.74 L67.63,259.28 L67.77,257.81 L67.91,256.36 L68.07,254.90 L68.25,253.45 L68.43,252.00 L68.63,250.55 L68.84,249.10 L69.06,247.66 L69.29,246.22 L69.53,244.78 L69.79,243.34 L70.06,241.91 L70.34,240.48 L70.63,239.05 L70.93,237.63 L71.25,236.21 L71.58,234.79 L71.91,233.37 L72.26,231.96 L72.62,230.55 L72.99,229.14 L73.37,227.74 L73.76,226.34 L74.17,224.94 L74.58,223.55 L75.00,222.16 L75.44,220.77 L75.88,219.38 L76.34,218.00 L76.80,216.62 L77.28,215.25 L77.76,213.88 L78.26,212.51 L78.76,211.14 L79.28,209.78 L79.80,208.42 L80.34,207.07 L80.88,205.72 L81.44,204.37 L82.00,203.03 L82.57,201.69 L83.15,200.35 L83.74,199.02 L84.34,197.69 L84.95,196.37 L85.57,195.05 L86.19,193.73 L86.83,192.42 L87.47,191.11 L88.12,189.80 L88.78,188.50 L89.45,187.21 L90.12,185.91 L90.81,184.62 L91.50,183.34 L92.20,182.06 L92.91,180.78 L93.63,179.51 L94.35,178.24 L95.08,176.98 L95.82,175.72 L96.57,174.47 L97.32,173.22 L98.08,171.97 L98.85,170.73 L99.63,169.50 L100.41,168.26 L101.20,167.04 L102.00,165.81 L102.80,164.60 L103.61,163.38 L104.43,162.17 L105.25,160.97 L106.08,159.77 L106.92,158.58 L107.76,157.39 L108.61,156.20 L109.88,155.34 L111.15,154.46 L112.42,153.59 L113.70,152.72 L114.97,151.86 L116.25,150.99 L117.52,150.13 L118.80,149.26 L120.08,148.40 L121.36,147.54 L122.64,146.68 L123.93,145.82 L125.21,144.97 L126.49,144.11 L127.78,143.26 L129.06,142.41 L130.35,141.56 L131.64,140.71 L132.93,139.86 L134.22,139.02 L135.51,138.17 L136.80,137.33 L138.09,136.49 L139.38,135.65 L140.68,134.81 L141.97,133.98 L143.27,133.14 L144.57,132.31 L145.86,131.47 L147.16,130.64 L148.46,129.81 L149.76,128.99 L151.06,128.16 L152.37,127.34 L153.67,126.51 L154.97,125.69 L156.28,124.87 L157.59,124.05 L158.89,123.23 L160.20,122.42 L161.51,121.60 L162.82,120.79 L164.13,119.98 L165.44,119.17 L166.75,118.36 L168.07,117.55 L169.38,116.75 L170.70,115.94 L172.01,115.14 L173.33,114.34 L174.65,113.54 L175.97,112.74 L177.29,111.94 L178.61,111.15 L179.93,110.36 L181.25,109.56 L182.57,108.77 L183.90,107.98 L185.22,107.20 L186.55,106.41 L187.88,105.62 L189.20,104.84 L190.53,104.06 L191.86,103.28 L193.19,102.50 L194.52,101.72 L195.85,100.95 L197.19,100.17 L198.52,99.40 L199.85,98.63 L201.19,97.86 L202.53,97.09 L203.86,96.32 L205.20,95.56 L206.54,94.79 L207.88,94.03 L209.22,93.27 L210.56,92.51 L211.90,91.75 L213.25,90.99 L214.59,90.24 L215.93,89.48 L217.28,88.73 L218.63,87.98 L219.97,87.23 L221.32,86.48 L222.67,85.74 L224.02,84.99 L225.37,84.25 L226.72,83.51 L228.07,82.77 L229.43,82.03 L230.78,81.29 L232.14,80.56 L233.49,79.82 L234.85,79.09 L236.20,78.36 L237.56,77.63 L238.92,76.90 L240.28,76.17 L241.64,75.45 L243.00,74.72 L244.36,74.00 L245.73,73.28 L247.09,72.56 L248.45,71.84 L249.82,71.13 L251.19,70.41 L252.55,69.70 L253.92,68.99 L255.29,68.28 L256.66,67.57 L258.03,66.86 L259.40,66.15 L260.77,65.45 L262.14,64.75 L263.51,64.04 L264.89,63.34 L266.26,62.64 L267.64,61.95 L269.01,61.25 L270.39,60.56 L271.77,59.87 L273.15,59.17 L274.53,58.49 L275.91,57.80 L277.29,57.11 L278.67,56.43 L280.05,55.74 L281.43,55.06 L282.82,54.38 L284.20,53.70 L285.59,53.02 L286.97,52.35 L288.36,51.67 L289.75,51.00 L291.14,50.33 L292.52,49.66 L293.91,48.99 L295.31,48.32 L296.70,47.66 L298.09,46.99 L299.48,46.33 L300.87,45.67 L302.27,45.01 L303.66,44.35 L305.06,43.69 L306.46,43.04 L307.85,42.38 L309.25,41.73 L310.65,41.08 L312.05,40.43 L313.45,39.78 L314.85,39.14 L316.25,38.49 L317.65,37.85 L319.06,37.21 L320.46,36.57 L321.87,35.93 L323.27,35.29 L324.68,34.66 L326.08,34.02 L327.49,33.39 L328.90,32.76 L330.31,32.13 L331.72,31.50 L333.13,30.88 L334.54,30.25 L335.95,29.63 L337.36,29.00 L338.77,28.38 L340.19,27.77 L341.60,27.15 L343.02,26.53 L344.43,25.92 L345.85,25.30 L347.26,24.69 L348.68,24.08 L350.10,23.47 L351.52,22.87 L352.94,22.26 L354.36,21.66 L355.78,21.05 L357.20,20.45 L358.63,19.85 L360.05,19.26 L361.47,18.66 L362.90,18.06 L364.32,17.47 L365.75,16.88 L367.17,16.29 L368.60,15.70 L370.03,15.11 L371.46,14.53 L372.89,13.94 L374.32,13.36 L375.75,12.78 L377.18,12.20 L378.61,11.62" stroke="#e57f7f" stroke-width="0.9" fill="none"/>
<path d="M69.31,262.21 L69.52,261.21 L69.73,260.22 L69.95,259.23 L70.17,258.24 L70.40,257.25 L70.63,256.26 L70.87,255.27 L71.11,254.28 L71.36,253.30 L71.62,252.31 L71.88,251.33 L72.14,250.35 L72.41,249.37 L72.69,248.39 L72.97,247.41 L73.26,246.44 L73.55,245.46 L73.85,244.49 L74.16,243.52 L74.46,242.55 L74.78,241.58 L75.10,240.61 L75.42,239.65 L75.75,238.69 L76.09,237.73 L76.43,236.77 L76.78,235.81 L77.13,234.85 L77.49,233.90 L77.85,232.95 L78.22,232.00 L78.59,231.06 L78.97,230.11 L79.36,229.17 L79.75,228.23 L80.14,227.29 L80.54,226.36 L80.95,225.43 L81.36,224.50 L81.78,223.57 L82.20,222.64 L82.63,221.72 L83.06,220.80 L83.50,219.88 L83.94,218.97 L84.39,218.06 L84.85,217.15 L85.31,216.24 L85.77,215.34 L86.24,214.44 L86.72,213.55 L87.20,212.65 L87.68,211.76 L88.18,210.87 L88.67,209.99 L89.18,209.11 L89.68,208.23 L90.20,207.36 L90.72,206.49 L91.24,205.62 L91.77,204.75 L92.30,203.89 L92.84,203.04 L93.39,202.18 L93.94,201.33 L94.49,200.48 L95.05,199.64 L95.62,198.80 L96.19,197.97 L96.77,197.14 L97.35,196.31 L97.94,195.49 L98.53,194.67 L99.13,193.85 L99.73,193.04 L100.34,192.23 L100.96,191.43 L101.57,190.63 L102.20,189.84 L102.83,189.05 L103.46,188.26 L104.10,187.48 L104.75,186.70 L105.40,185.93 L106.06,185.16 L106.72,184.39 L107.38,183.64 L108.06,182.88 L108.73,182.13 L109.41,181.38 L110.10,180.64 L110.79,179.90 L111.48,179.17 L112.18,178.44 L112.89,177.71 L113.59,176.99 L114.31,176.27 L115.02,175.55 L115.74,174.84 L116.46,174.13 L117.19,173.42 L117.92,172.72 L118.65,172.02 L119.39,171.33 L120.13,170.63 L120.87,169.94 L121.62,169.26 L122.36,168.57 L123.11,167.89 L123.87,167.21 L124.62,166.54 L125.38,165.86 L126.14,165.19 L126.90,164.52 L127.67,163.86 L128.44,163.19 L129.20,162.53 L129.97,161.87 L130.74,161.21 L131.52,160.55 L132.29,159.90 L133.07,159.25 L133.84,158.60 L134.62,157.95 L135.40,157.30 L136.18,156.66 L136.97,156.01 L137.75,155.37 L138.54,154.73 L139.33,154.10 L140.11,153.46 L140.90,152.83 L141.70,152.20 L142.49,151.57 L143.28,150.94 L144.08,150.31 L144.88,149.69 L145.68,149.07 L146.48,148.45 L147.28,147.83 L148.08,147.21 L148.88,146.59 L149.69,145.98 L150.49,145.37 L151.30,144.76 L152.11,144.15 L152.92,143.54 L153.73,142.94 L154.55,142.33 L155.36,141.73 L156.18,141.13 L156.99,140.53 L157.81,139.94 L158.63,139.34 L159.45,138.75 L160.27,138.16 L161.09,137.57 L161.92,136.98 L162.74,136.39 L163.57,135.81 L164.39,135.22 L165.22,134.64 L166.05,134.06 L166.88,133.48 L167.71,132.91 L168.55,132.33 L169.38,131.76 L170.22,131.18 L171.05,130.61 L171.89,130.04 L172.73,129.47 L173.57,128.91 L174.41,128.34 L175.25,127.78 L176.09,127.22 L176.93,126.66 L177.78,126.10 L178.62,125.54 L179.47,124.98 L180.32,124.43 L181.16,123.87 L182.01,123.32 L182.86,122.77 L183.72,122.22 L184.57,121.67 L185.42,121.13 L186.27,120.58 L187.13,120.04 L187.98,119.50 L188.84,118.95 L189.70,118.41 L190.56,117.88 L191.42,117.34 L192.28,116.80 L193.14,116.27 L194.00,115.74 L194.86,115.20 L195.72,114.67 L196.59,114.14 L197.45,113.61 L198.32,113.09 L199.19,112.56 L200.05,112.04 L200.92,111.51 L201.79,110.99 L202.66,110.47 L203.53,109.95 L204.40,109.43 L205.27,108.91 L206.15,108.40 L207.02,107.88 L207.89,107.37 L208.77,106.86 L209.64,106.34 L210.52,105.83 L211.39,105.32 L212.27,104.81 L213.15,104.31 L214.03,103.80 L214.91,103.30 L215.79,102.79 L216.67,102.29 L217.55,101.79 L218.43,101.28 L219.31,100.78 L220.19,100.29 L221.08,99.79 L221.96,99.29 L222.84,98.79 L223.73,98.30 L224.61,97.81 L225.50,97.31 L226.39,96.82 L227.27,96.33 L228.16,95.84 L229.05,95.35 L229.94,94.86 L230.82,94.37 L231.71,93.89 L232.60,93.40 L233.49,92.92 L234.38,92.43 L235.27,91.95 L236.16,91.47 L237.06,90.98 L237.95,90.50 L238.84,90.02 L239.73,89.54 L240.63,89.07 L241.52,88.59 L242.41,88.11 L243.31,87.64 L244.20,87.16 L245.10,86.69 L245.99,86.22 L246.89,85.74 L247.79,85.27 L248.68,84.80 L249.58,84.33 L250.48,83.86 L251.38,83.39 L252.27,82.93 L253.17,82.46 L254.07,81.99 L254.97,81.53 L255.87,81.07 L256.77,80.60 L257.67,80.14 L258.57,79.68 L259.47,79.22 L260.38,78.76 L261.28,78.30 L262.18,77.84 L263.08,77.38 L263.99,76.93 L264.89,76.47 L265.79,76.01 L266.70,75.56 L267.60,75.11 L268.51,74.65 L269.41,74.20 L270.32,73.75 L271.22,73.30 L272.13,72.85 L273.04,72.40 L273.95,71.95 L274.85,71.50 L275.76,71.06 L276.67,70.61 L277.58,70.17 L278.49,69.72 L279.40,69.28 L280.31,68.84 L281.22,68.39 L282.13,67.95 L283.04,67.51 L283.95,67.07 L284.86,66.63 L285.77,66.19 L286.69,65.76 L287.60,65.32 L288.51,64.88 L289.42,64.45 L290.34,64.01 L291.25,63.58 L292.17,63.15 L293.08,62.71 L294.00,62.28 L294.91,61.85 L295.83,61.42 L296.74,60.99 L297.66,60.56 L298.58,60.13 L299.49,59.71 L300.41,59.28 L301.33,58.85 L302.25,58.43 L303.17,58.00 L304.08,57.58 L305.00,57.16 L305.92,56.74 L306.84,56.31 L307.76,55.89 L308.68,55.47 L309.60,55.05 L310.53,54.63 L311.45,54.22 L312.37,53.80 L313.29,53.38 L314.21,52.96 L315.14,52.55 L316.06,52.13 L316.98,51.72 L317.91,51.31 L318.83,50.89 L319.76,50.48 L320.68,50.07 L321.61,49.66 L322.53,49.25 L323.46,48.84 L324.38,48.43 L325.31,48.02 L326.24,47.62 L327.16,47.21 L328.09,46.80 L329.02,46.40 L329.94,45.99 L330.87,45.59 L331.80,45.19 L332.73,44.78 L333.66,44.38 L334.59,43.98 L335.52,43.58 L336.45,43.18 L337.38,42.78 L338.31,42.38 L339.24,41.98 L340.17,41.58 L341.10,41.19 L342.04,40.79 L342.97,40.39 L343.90,40.00 L344.83,39.60 L345.77,39.21 L346.70,38.82 L347.63,38.42 L348.57,38.03 L349.50,37.64 L350.43,37.25 L351.37,36.86 L352.30,36.47 L353.24,36.08 L354.18,35.69 L355.11,35.30 L356.05,34.92 L356.98,34.53 L357.92,34.14 L358.86,33.76 L359.80,33.37 L360.73,32.99 L361.67,32.61 L362.61,32.22 L363.55,31.84 L364.49,31.46 L365.43,31.08 L366.37,30.70 L367.30,30.32 L368.24,29.94 L369.18,29.56 L370.13,29.18 L371.07,28.80 L372.01,28.42 L372.95,28.05 L373.89,27.67 L374.83,27.30 L375.77,26.92 L376.72,26.55 L377.66,26.17 L378.60,25.80" stroke="#ff8c8c" stroke-width="0.8" stroke-dasharray="1,0.8" fill="none"/>
<path d="M68.13,262.26 L68.24,260.80 L68.37,259.34 L68.51,257.89 L68.67,256.44 L68.84,254.99 L69.02,253.54 L69.21,252.10 L69.42,250.66 L69.64,249.22 L69.88,247.79 L70.12,246.36 L70.38,244.93 L70.65,243.50 L70.94,242.08 L71.23,240.66 L71.54,239.24 L71.86,237.83 L72.19,236.42 L72.54,235.01 L72.89,233.61 L73.26,232.21 L73.64,230.81 L74.03,229.42 L74.43,228.03 L74.84,226.65 L75.27,225.26 L75.70,223.88 L76.15,222.51 L76.59,221.13 L77.04,219.76 L77.51,218.39 L77.98,217.02 L78.46,215.66 L78.96,214.30 L79.46,212.95 L79.97,211.60 L80.50,210.25 L81.03,208.90 L81.57,207.56 L82.12,206.22 L82.69,204.89 L83.26,203.56 L83.84,202.24 L84.43,200.91 L85.03,199.60 L85.64,198.28 L86.25,196.97 L86.88,195.67 L87.52,194.37 L88.16,193.07 L88.81,191.77 L89.47,190.48 L90.14,189.20 L90.82,187.92 L91.51,186.64 L92.20,185.37 L92.90,184.10 L93.61,182.84 L94.33,181.58 L95.06,180.32 L95.79,179.07 L96.54,177.83 L97.28,176.59 L98.04,175.35 L98.81,174.12 L99.58,172.89 L100.36,171.67 L101.14,170.45 L101.93,169.23 L102.71,168.02 L103.50,166.80 L104.30,165.59 L105.11,164.39 L105.92,163.19 L106.74,161.99 L107.56,160.80 L108.39,159.62 L109.23,158.44 L109.86,157.50 L110.90,156.83 L112.17,155.96 L113.44,155.09 L114.72,154.22 L115.99,153.36 L117.27,152.49 L118.54,151.63 L119.82,150.77 L121.10,149.91 L122.38,149.05 L123.66,148.20 L124.94,147.34 L126.22,146.49 L127.50,145.63 L128.79,144.78 L130.07,143.93 L131.36,143.09 L132.64,142.24 L133.93,141.40 L135.22,140.55 L136.51,139.71 L137.80,138.87 L139.09,138.03 L140.38,137.19 L141.68,136.36 L142.97,135.52 L144.27,134.69 L145.56,133.86 L146.86,133.03 L148.16,132.20 L149.46,131.37 L150.75,130.55 L152.06,129.72 L153.36,128.90 L154.66,128.08 L155.96,127.26 L157.27,126.44 L158.57,125.63 L159.88,124.81 L161.18,124.00 L162.49,123.18 L163.80,122.37 L165.11,121.56 L166.42,120.76 L167.73,119.95 L169.05,119.15 L170.36,118.34 L171.67,117.54 L172.99,116.74 L174.30,115.94 L175.62,115.14 L176.94,114.35 L178.26,113.55 L179.58,112.76 L180.90,111.97 L182.22,111.18 L183.54,110.39 L184.86,109.60 L186.19,108.82 L187.51,108.03 L188.84,107.25 L190.16,106.47 L191.49,105.69 L192.82,104.91 L194.15,104.13 L195.48,103.36 L196.81,102.58 L198.14,101.81 L199.47,101.04 L200.80,100.27 L202.14,99.51 L203.48,98.75 L204.82,97.99 L206.16,97.23 L207.50,96.47 L208.84,95.71 L210.18,94.96 L211.52,94.21 L212.87,93.46 L214.21,92.71 L215.56,91.96 L216.90,91.21 L218.25,90.47 L219.60,89.72 L220.94,88.98 L222.29,88.24 L223.64,87.50 L225.00,86.76 L226.35,86.03 L227.70,85.29 L229.05,84.56 L230.41,83.83 L231.76,83.10 L233.12,82.37 L234.47,81.64 L235.83,80.91 L237.19,80.19 L238.55,79.47 L239.91,78.75 L241.27,78.03 L242.63,77.30 L243.99,76.58 L245.35,75.86 L246.71,75.14 L248.07,74.42 L249.43,73.71 L250.80,72.99 L252.16,72.28 L253.53,71.57 L254.89,70.86 L256.26,70.15 L257.63,69.45 L259.00,68.74 L260.37,68.04 L261.74,67.34 L263.11,66.63 L264.48,65.94 L265.85,65.24 L267.22,64.54 L268.60,63.85 L269.97,63.15 L271.35,62.46 L272.72,61.77 L274.10,61.08 L275.48,60.39 L276.86,59.71 L278.24,59.02 L279.62,58.34 L281.00,57.66 L282.38,56.98 L283.76,56.30 L285.14,55.63 L286.53,54.95 L287.91,54.28 L289.30,53.60 L290.68,52.93 L292.07,52.26 L293.46,51.60 L294.85,50.93 L296.24,50.26 L297.63,49.60 L299.02,48.94 L300.41,48.28 L301.80,47.62 L303.19,46.96 L304.59,46.31 L305.98,45.65 L307.38,45.00 L308.77,44.35 L310.17,43.70 L311.56,43.05 L312.96,42.40 L314.36,41.76 L315.76,41.11 L317.16,40.47 L318.56,39.83 L319.96,39.19 L321.36,38.55 L322.77,37.92 L324.17,37.28 L325.58,36.65 L326.98,36.02 L328.39,35.39 L329.79,34.76 L331.20,34.13 L332.61,33.50 L334.02,32.88 L335.42,32.26 L336.83,31.64 L338.25,31.02 L339.66,30.40 L341.07,29.78 L342.47,29.14 L343.87,28.51 L345.28,27.87 L346.68,27.24 L348.09,26.61 L349.50,25.98 L350.91,25.35 L352.31,24.73 L353.72,24.10 L355.13,23.48 L356.54,22.85 L357.95,22.23 L359.37,21.61 L360.78,21.00 L362.19,20.38 L363.61,19.77 L365.02,19.15 L366.44,18.54 L367.85,17.93 L369.27,17.32 L370.69,16.72 L372.11,16.11 L373.52,15.51 L374.94,14.90 L376.36,14.30 L377.79,13.70 L379.21,13.10" stroke="#9f74e0" stroke-width="0.75" fill="none"/>
<path d="M68.72,262.08 L68.92,261.09 L69.13,260.09 L69.34,259.09 L69.56,258.10 L69.78,257.10 L70.01,256.11 L70.24,255.12 L70.48,254.13 L70.73,253.14 L70.98,252.15 L71.23,251.16 L71.49,250.17 L71.76,249.19 L72.03,248.20 L72.31,247.22 L72.59,246.24 L72.88,245.26 L73.17,244.28 L73.47,243.30 L73.77,242.33 L74.08,241.35 L74.40,240.38 L74.72,239.41 L75.04,238.44 L75.37,237.47 L75.71,236.51 L76.05,235.54 L76.39,234.58 L76.74,233.62 L77.10,232.66 L77.46,231.71 L77.83,230.75 L78.20,229.80 L78.58,228.85 L78.97,227.90 L79.35,226.96 L79.75,226.01 L80.15,225.07 L80.55,224.14 L80.96,223.20 L81.38,222.27 L81.81,221.34 L82.24,220.41 L82.67,219.49 L83.12,218.57 L83.56,217.65 L84.02,216.73 L84.47,215.82 L84.94,214.91 L85.41,214.00 L85.88,213.10 L86.36,212.20 L86.84,211.30 L87.33,210.40 L87.83,209.51 L88.33,208.62 L88.84,207.74 L89.35,206.86 L89.87,205.98 L90.39,205.10 L90.92,204.23 L91.45,203.36 L91.99,202.49 L92.53,201.63 L93.08,200.77 L93.63,199.92 L94.19,199.07 L94.76,198.22 L95.33,197.37 L95.91,196.53 L96.49,195.70 L97.07,194.86 L97.67,194.04 L98.26,193.21 L98.87,192.39 L99.47,191.57 L100.09,190.76 L100.71,189.95 L101.33,189.15 L101.96,188.35 L102.59,187.55 L103.23,186.76 L103.88,185.97 L104.53,185.19 L105.19,184.41 L105.85,183.64 L106.51,182.87 L107.18,182.10 L107.86,181.34 L108.54,180.58 L109.23,179.83 L109.92,179.08 L110.61,178.34 L111.31,177.60 L112.01,176.86 L112.72,176.13 L113.43,175.40 L114.15,174.67 L114.86,173.95 L115.59,173.23 L116.31,172.52 L117.04,171.80 L117.77,171.09 L118.51,170.39 L119.25,169.69 L119.99,168.99 L120.73,168.29 L121.48,167.60 L122.23,166.91 L122.98,166.22 L123.73,165.53 L124.49,164.85 L125.25,164.17 L126.01,163.49 L126.77,162.82 L127.53,162.15 L128.30,161.48 L129.07,160.81 L129.83,160.14 L130.60,159.48 L131.38,158.81 L132.15,158.15 L132.92,157.49 L133.70,156.84 L134.48,156.18 L135.26,155.53 L136.04,154.88 L136.82,154.23 L137.60,153.58 L138.39,152.93 L139.17,152.29 L139.97,151.66 L140.76,151.02 L141.55,150.39 L142.35,149.76 L143.15,149.13 L143.95,148.50 L144.75,147.87 L145.55,147.25 L146.35,146.63 L147.16,146.01 L147.96,145.39 L148.77,144.77 L149.58,144.15 L150.38,143.54 L151.20,142.93 L152.01,142.32 L152.82,141.71 L153.63,141.10 L154.45,140.50 L155.27,139.90 L156.09,139.29 L156.90,138.70 L157.72,138.10 L158.55,137.50 L159.37,136.91 L160.19,136.31 L161.02,135.72 L161.84,135.13 L162.67,134.54 L163.50,133.96 L164.33,133.37 L165.16,132.79 L165.99,132.21 L166.83,131.62 L167.66,131.05 L168.50,130.47 L169.33,129.89 L170.17,129.32 L171.01,128.75 L171.85,128.18 L172.69,127.61 L173.53,127.04 L174.37,126.47 L175.22,125.91 L176.06,125.34 L176.91,124.78 L177.75,124.22 L178.60,123.66 L179.45,123.10 L180.30,122.54 L181.15,121.99 L182.00,121.44 L182.85,120.88 L183.71,120.33 L184.56,119.78 L185.42,119.24 L186.27,118.69 L187.13,118.14 L187.99,117.60 L188.84,117.06 L189.70,116.51 L190.56,115.97 L191.43,115.44 L192.29,114.90 L193.15,114.36 L194.01,113.83 L194.88,113.29 L195.74,112.76 L196.61,112.23 L197.48,111.70 L198.34,111.17 L199.21,110.64 L200.08,110.12 L200.95,109.59 L201.82,109.07 L202.69,108.55 L203.57,108.03 L204.44,107.51 L205.31,106.99 L206.19,106.47 L207.06,105.95 L207.94,105.44 L208.81,104.92 L209.69,104.41 L210.57,103.90 L211.44,103.38 L212.32,102.87 L213.20,102.37 L214.08,101.86 L214.96,101.35 L215.84,100.85 L216.72,100.34 L217.61,99.84 L218.49,99.33 L219.37,98.83 L220.26,98.33 L221.14,97.83 L222.03,97.33 L222.91,96.84 L223.80,96.34 L224.68,95.84 L225.57,95.35 L226.46,94.86 L227.35,94.36 L228.23,93.87 L229.12,93.38 L230.01,92.89 L230.90,92.40 L231.79,91.91 L232.68,91.42 L233.57,90.94 L234.46,90.45 L235.36,89.98 L236.25,89.50 L237.15,89.02 L238.05,88.54 L238.94,88.07 L239.84,87.59 L240.74,87.12 L241.63,86.64 L242.53,86.17 L243.43,85.70 L244.33,85.23 L245.23,84.76 L246.13,84.29 L247.03,83.82 L247.93,83.36 L248.83,82.89 L249.73,82.42 L250.63,81.96 L251.53,81.50 L252.43,81.03 L253.33,80.57 L254.24,80.11 L255.14,79.65 L256.04,79.19 L256.95,78.73 L257.85,78.27 L258.76,77.81 L259.66,77.36 L260.57,76.90 L261.47,76.45 L262.38,75.99 L263.28,75.54 L264.19,75.08 L265.10,74.63 L266.01,74.18 L266.91,73.73 L267.82,73.28 L268.73,72.83 L269.64,72.39 L270.55,71.94 L271.46,71.49 L272.37,71.05 L273.28,70.60 L274.19,70.16 L275.09,69.69 L275.98,69.22 L276.88,68.74 L277.78,68.27 L278.68,67.80 L279.57,67.33 L280.47,66.86 L281.37,66.39 L282.27,65.92 L283.17,65.45 L284.07,64.98 L284.97,64.52 L285.87,64.05 L286.77,63.59 L287.67,63.12 L288.57,62.66 L289.47,62.20 L290.38,61.73 L291.28,61.27 L292.18,60.81 L293.09,60.35 L293.99,59.89 L294.89,59.43 L295.80,58.98 L296.70,58.52 L297.61,58.06 L298.52,57.61 L299.42,57.15 L300.33,56.70 L301.24,56.24 L302.14,55.79 L303.05,55.34 L303.96,54.89 L304.87,54.44 L305.78,54.00 L306.69,53.55 L307.61,53.11 L308.52,52.67 L309.43,52.23 L310.35,51.79 L311.26,51.35 L312.17,50.91 L313.09,50.47 L314.00,50.03 L314.92,49.59 L315.83,49.15 L316.75,48.72 L317.67,48.28 L318.58,47.85 L319.50,47.41 L320.42,46.98 L321.33,46.55 L322.25,46.11 L323.17,45.68 L324.09,45.25 L325.01,44.82 L325.93,44.39 L326.85,43.96 L327.77,43.53 L328.69,43.11 L329.61,42.68 L330.53,42.25 L331.45,41.83 L332.37,41.40 L333.29,40.98 L334.22,40.55 L335.14,40.13 L336.06,39.71 L336.98,39.28 L337.91,38.86 L338.83,38.44 L339.76,38.02 L340.68,37.60 L341.61,37.18 L342.53,36.77 L343.46,36.35 L344.38,35.93 L345.31,35.51 L346.23,35.10 L347.16,34.68 L348.09,34.27 L349.02,33.85 L349.94,33.44 L350.87,33.03 L351.80,32.61 L352.73,32.20 L353.66,31.79 L354.59,31.40 L355.53,31.00 L356.47,30.61 L357.40,30.21 L358.34,29.82 L359.28,29.43 L360.21,29.04 L361.15,28.65 L362.09,28.25 L363.03,27.86 L363.96,27.47 L364.90,27.09 L365.84,26.70 L366.78,26.31 L367.72,25.92 L368.66,25.54 L369.60,25.15 L370.54,24.76 L371.48,24.38 L372.42,23.99 L373.36,23.61 L374.30,23.23 L375.25,22.84 L376.19,22.46 L377.13,22.08" stroke="#9f74e0" stroke-width="0.75" fill="none"/>
<path d="M71.99,262.24 L72.15,261.41 L72.32,260.59 L72.49,259.76 L72.67,258.94 L72.85,258.13 L73.04,257.31 L73.23,256.50 L73.42,255.69 L73.62,254.88 L73.82,254.07 L74.03,253.27 L74.24,252.47 L74.46,251.67 L74.68,250.88 L74.90,250.08 L75.13,249.29 L75.36,248.50 L75.60,247.71 L75.84,246.93 L76.08,246.15 L76.33,245.37 L76.58,244.59 L76.83,243.81 L77.09,243.04 L77.36,242.27 L77.62,241.50 L77.90,240.73 L78.17,239.97 L78.45,239.21 L78.73,238.45 L79.02,237.69 L79.31,236.94 L79.60,236.19 L79.90,235.43 L80.20,234.69 L80.51,233.94 L80.82,233.20 L81.13,232.46 L81.45,231.72 L81.77,230.98 L82.09,230.25 L82.42,229.51 L82.75,228.78 L83.08,228.06 L83.42,227.33 L83.76,226.61 L84.11,225.88 L84.46,225.17 L84.81,224.45 L85.17,223.73 L85.53,223.02 L85.89,222.31 L86.26,221.60 L86.63,220.90 L87.00,220.19 L87.38,219.49 L87.76,218.79 L88.14,218.10 L88.52,217.40 L88.91,216.71 L89.31,216.02 L89.70,215.33 L90.10,214.65 L90.51,213.96 L90.91,213.28 L91.32,212.60 L91.74,211.92 L92.15,211.25 L92.57,210.57 L92.99,209.90 L93.42,209.23 L93.85,208.57 L94.28,207.90 L94.71,207.24 L95.15,206.58 L95.59,205.92 L96.03,205.27 L96.48,204.61 L96.93,203.96 L97.38,203.31 L97.84,202.66 L98.30,202.02 L98.76,201.37 L99.22,200.73 L99.69,200.09 L100.16,199.46 L100.63,198.82 L101.11,198.19 L101.59,197.56 L102.07,196.93 L102.56,196.30 L103.04,195.68 L103.53,195.06 L104.03,194.44 L104.52,193.82 L105.02,193.20 L105.52,192.59 L106.02,191.97 L106.53,191.36 L107.04,190.76 L107.55,190.15 L108.06,189.55 L108.58,188.94 L109.10,188.34 L109.62,187.75 L110.14,187.15 L110.67,186.56 L111.20,185.97 L111.73,185.38 L112.27,184.79 L112.80,184.20 L113.34,183.62 L113.88,183.04 L114.43,182.46 L114.97,181.88 L115.52,181.30 L116.07,180.73 L116.63,180.16 L117.18,179.59 L117.74,179.02 L118.30,178.45 L118.86,177.89 L119.43,177.33 L119.99,176.77 L120.56,176.21 L121.13,175.66 L121.71,175.10 L122.28,174.55 L122.86,174.00 L123.44,173.45 L124.02,172.90 L124.61,172.36 L125.19,171.82 L125.78,171.28 L126.37,170.74 L126.96,170.20 L127.56,169.67 L128.16,169.14 L128.75,168.61 L129.35,168.08 L129.96,167.55 L130.56,167.02 L131.17,166.50 L131.77,165.98 L132.38,165.46 L132.99,164.94 L133.61,164.43 L134.22,163.91 L134.84,163.40 L135.46,162.89 L136.08,162.39 L136.70,161.88 L137.33,161.38 L137.95,160.87 L138.58,160.37 L139.21,159.87 L139.84,159.38 L140.47,158.88 L141.11,158.39 L141.74,157.90 L142.38,157.41 L143.02,156.92 L143.66,156.44 L144.30,155.95 L144.94,155.47 L145.59,154.99 L146.24,154.51 L146.88,154.04 L147.53,153.56 L148.18,153.09 L148.84,152.62 L149.49,152.15 L150.14,151.68 L150.80,151.22 L151.46,150.75 L152.12,150.29 L152.78,149.83 L153.44,149.37 L154.10,148.92 L154.77,148.46 L155.43,148.01 L156.10,147.56 L156.77,147.11 L157.44,146.66 L158.11,146.21 L158.78,145.77 L159.45,145.33 L160.13,144.89 L160.80,144.45 L161.48,144.01 L162.15,143.58 L162.83,143.14 L163.51,142.71 L164.19,142.28 L164.87,141.85 L165.56,141.42 L166.24,141.00 L166.93,140.58 L167.61,140.15 L168.30,139.73 L168.99,139.32 L169.68,138.90 L170.37,138.49 L171.06,138.07 L171.75,137.66 L172.44,137.25 L173.14,136.84 L173.83,136.43 L174.53,136.03 L175.22,135.63 L175.92,135.22 L176.62,134.82 L177.32,134.43 L178.02,134.03 L178.72,133.63 L179.42,133.24 L180.13,132.85 L180.83,132.45 L181.54,132.07 L182.24,131.68 L182.95,131.29 L183.66,130.91 L184.37,130.52 L185.08,130.14 L185.79,129.76 L186.50,129.38 L187.21,129.00 L187.93,128.63 L188.64,128.25 L189.36,127.88 L190.07,127.51 L190.79,127.14 L191.50,126.77 L192.22,126.40 L192.94,126.04 L193.66,125.67 L194.38,125.31 L195.10,124.95 L195.83,124.59 L196.55,124.23 L197.27,123.87 L198.00,123.52 L198.72,123.16 L199.45,122.81 L200.17,122.46 L200.90,122.11 L201.63,121.76 L202.36,121.41 L203.09,121.07 L203.82,120.72 L204.55,120.38 L205.28,120.03 L206.01,119.69 L206.74,119.35 L207.48,119.01 L208.21,118.68 L208.95,118.34 L209.68,118.01 L210.42,117.67 L211.15,117.34 L211.89,117.01 L212.63,116.68 L213.37,116.35 L214.11,116.02 L214.85,115.70 L215.59,115.37 L216.33,115.05 L217.07,114.73 L217.81,114.41 L218.55,114.09 L219.30,113.77 L220.04,113.45 L220.78,113.13 L221.53,112.82 L222.27,112.50 L223.02,112.19 L223.77,111.88 L224.51,111.57 L225.26,111.26 L226.01,110.95 L226.75,110.64 L227.50,110.33 L228.25,110.03 L229.00,109.72 L229.75,109.42 L230.50,109.12 L231.25,108.82 L232.00,108.52 L232.76,108.22 L233.51,107.92 L234.26,107.62 L235.01,107.33 L235.77,107.03 L236.52,106.74 L237.27,106.45 L238.03,106.16 L238.78,105.86 L239.54,105.57 L240.29,105.29 L241.05,105.00 L241.80,104.71 L242.56,104.42 L243.32,104.14 L244.07,103.86 L244.83,103.57 L245.59,103.29 L246.35,103.01 L247.11,102.73 L247.86,102.45 L248.62,102.17 L249.38,101.89 L250.14,101.62 L250.90,101.34 L251.66,101.06 L252.42,100.79 L253.18,100.52 L253.94,100.24 L254.70,99.97 L255.46,99.70 L256.22,99.43 L256.98,99.16 L257.75,98.89 L258.51,98.63 L259.27,98.36 L260.03,98.09 L260.79,97.83 L261.56,97.56 L262.32,97.30 L263.08,97.04 L263.84,96.77 L264.61,96.51 L265.37,96.25 L266.13,95.99 L266.89,95.73 L267.66,95.47 L268.42,95.22 L269.18,94.96 L269.95,94.70 L270.71,94.45 L271.47,94.19 L272.24,93.94 L273.00,93.68 L273.77,93.43 L274.53,93.18 L275.29,92.93 L276.06,92.68 L276.82,92.43 L277.58,92.18 L278.35,91.93 L279.11,91.68 L279.88,91.43 L280.64,91.18 L281.40,90.94 L282.17,90.69 L282.93,90.45 L283.69,90.20 L284.46,89.96 L285.22,89.71 L285.98,89.47 L286.75,89.23 L287.51,88.98 L288.27,88.74 L289.04,88.50 L289.80,88.26 L290.56,88.02 L291.32,87.78 L292.09,87.54 L292.85,87.30 L293.61,87.06 L294.37,86.83 L295.14,86.59 L295.90,86.35 L296.66,86.12 L297.42,85.88 L298.18,85.64 L298.94,85.41 L299.70,85.17 L300.46,84.94 L301.22,84.71 L301.98,84.47 L302.74,84.24 L303.50,84.01 L304.26,83.78 L305.02,83.54 L305.78,83.31 L306.54,83.08 L307.30,82.85 L308.06,82.62 L308.81,82.39 L309.57,82.16 L310.33,81.93 L311.09,81.70 L311.84,81.47 L312.60,81.24 L313.35,81.02 L314.11,80.79 L314.87,80.56 L315.62,80.33 L316.38,80.11" stroke="#008000" stroke-width="2.2" stroke-dasharray="11.6,2.9,1.8,2.9" fill="none"/>
<path d="M69.86,262.28 L69.99,261.40 L70.14,260.52 L70.28,259.65 L70.43,258.77 L70.58,257.91 L70.74,257.04 L70.91,256.18 L71.07,255.32 L71.24,254.46 L71.42,253.60 L71.60,252.75 L71.78,251.90 L71.97,251.05 L72.16,250.20 L72.36,249.36 L72.56,248.52 L72.76,247.68 L72.97,246.85 L73.18,246.02 L73.39,245.19 L73.61,244.36 L73.84,243.53 L74.07,242.71 L74.30,241.89 L74.53,241.07 L74.77,240.26 L75.02,239.45 L75.26,238.64 L75.51,237.83 L75.77,237.03 L76.03,236.22 L76.29,235.42 L76.56,234.63 L76.83,233.83 L77.10,233.04 L77.38,232.25 L77.66,231.46 L77.95,230.68 L78.24,229.90 L78.53,229.12 L78.83,228.34 L79.13,227.56 L79.43,226.79 L79.74,226.02 L80.05,225.25 L80.36,224.49 L80.68,223.73 L81.00,222.97 L81.33,222.21 L81.66,221.45 L81.99,220.70 L82.33,219.95 L82.67,219.20 L83.01,218.45 L83.36,217.71 L83.71,216.97 L84.06,216.23 L84.42,215.50 L84.78,214.76 L85.14,214.03 L85.51,213.30 L85.88,212.57 L86.26,211.85 L86.64,211.13 L87.02,210.41 L87.40,209.69 L87.79,208.98 L88.18,208.26 L88.57,207.55 L88.97,206.84 L89.37,206.14 L89.78,205.44 L90.19,204.73 L90.60,204.04 L91.01,203.34 L91.43,202.64 L91.85,201.95 L92.27,201.26 L92.70,200.58 L93.13,199.89 L93.56,199.21 L94.00,198.53 L94.44,197.85 L94.88,197.17 L95.32,196.50 L95.77,195.83 L96.22,195.16 L96.68,194.49 L97.14,193.83 L97.60,193.17 L98.06,192.51 L98.53,191.85 L99.00,191.19 L99.47,190.54 L99.94,189.89 L100.42,189.24 L100.90,188.59 L101.39,187.95 L101.88,187.30 L102.36,186.66 L102.86,186.02 L103.35,185.39 L103.85,184.76 L104.35,184.12 L104.86,183.49 L105.36,182.87 L105.87,182.24 L106.38,181.62 L106.90,181.00 L107.42,180.38 L107.94,179.76 L108.46,179.15 L108.99,178.54 L109.51,177.93 L110.05,177.32 L110.58,176.71 L111.12,176.11 L111.65,175.51 L112.20,174.91 L112.74,174.31 L113.29,173.71 L113.84,173.12 L114.39,172.53 L114.94,171.94 L115.50,171.35 L116.06,170.77 L116.62,170.19 L117.18,169.61 L117.75,169.03 L118.32,168.45 L118.89,167.88 L119.46,167.30 L120.04,166.73 L120.62,166.16 L121.20,165.60 L121.78,165.03 L122.37,164.47 L122.96,163.91 L123.55,163.35 L124.14,162.80 L124.73,162.24 L125.33,161.69 L125.93,161.14 L126.53,160.59 L127.14,160.04 L127.74,159.50 L128.35,158.96 L128.96,158.42 L129.57,157.88 L130.19,157.34 L130.80,156.81 L131.42,156.27 L132.04,155.74 L132.67,155.22 L133.29,154.69 L133.92,154.16 L134.55,153.64 L135.18,153.12 L135.81,152.60 L136.45,152.08 L137.09,151.57 L137.72,151.06 L138.37,150.54 L139.01,150.03 L139.65,149.53 L140.30,149.02 L140.95,148.52 L141.60,148.02 L142.25,147.52 L142.91,147.02 L143.56,146.52 L144.22,146.03 L144.88,145.53 L145.54,145.04 L146.21,144.56 L146.87,144.07 L147.54,143.58 L148.21,143.10 L148.88,142.62 L149.55,142.14 L150.23,141.66 L150.90,141.19 L151.58,140.71 L152.26,140.24 L152.94,139.77 L153.62,139.30 L154.31,138.83 L154.99,138.37 L155.68,137.90 L156.37,137.44 L157.06,136.98 L157.75,136.52 L158.44,136.07 L159.14,135.61 L159.83,135.16 L160.53,134.71 L161.23,134.26 L161.93,133.81 L162.63,133.37 L163.34,132.92 L164.04,132.48 L164.75,132.04 L165.46,131.60 L166.17,131.17 L166.88,130.73 L167.59,130.30 L168.30,129.86 L169.02,129.43 L169.73,129.00 L170.45,128.58 L171.17,128.15 L171.89,127.73 L172.61,127.31 L173.33,126.89 L174.06,126.47 L174.78,126.05 L175.51,125.63 L176.24,125.22 L176.97,124.81 L177.70,124.40 L178.43,123.99 L179.16,123.58 L179.89,123.18 L180.63,122.77 L181.36,122.37 L182.10,121.97 L182.84,121.57 L183.58,121.17 L184.32,120.77 L185.06,120.38 L185.80,119.98 L186.55,119.59 L187.29,119.20 L188.04,118.81 L188.78,118.43 L189.53,118.04 L190.28,117.66 L191.03,117.27 L191.78,116.89 L192.53,116.51 L193.28,116.13 L194.04,115.76 L194.79,115.38 L195.55,115.01 L196.30,114.63 L197.06,114.26 L197.82,113.89 L198.58,113.52 L199.34,113.16 L200.10,112.79 L200.86,112.43 L201.62,112.06 L202.39,111.70 L203.15,111.34 L203.92,110.98 L204.68,110.63 L205.45,110.27 L206.22,109.92 L206.98,109.56 L207.75,109.21 L208.52,108.86 L209.29,108.51 L210.06,108.16 L210.83,107.82 L211.61,107.47 L212.38,107.13 L213.15,106.79 L213.93,106.45 L214.70,106.11 L215.48,105.77 L216.25,105.43 L217.03,105.09 L217.81,104.76 L218.58,104.43 L219.36,104.09 L220.14,103.76 L220.92,103.43 L221.70,103.10 L222.48,102.78 L223.26,102.45 L224.04,102.13 L224.82,101.80 L225.61,101.48 L226.39,101.16 L227.17,100.84 L227.96,100.52 L228.74,100.20 L229.52,99.88 L230.31,99.57 L231.09,99.25 L231.88,98.94 L232.67,98.63 L233.45,98.32 L234.24,98.01 L235.02,97.70 L235.81,97.39 L236.60,97.09 L237.39,96.78 L238.18,96.48 L238.96,96.17 L239.75,95.87 L240.54,95.57 L241.33,95.27 L242.12,94.97 L242.91,94.68 L243.70,94.38 L244.49,94.08 L245.28,93.79 L246.07,93.50 L246.86,93.20 L247.65,92.91 L248.44,92.62 L249.23,92.33 L250.02,92.04 L250.81,91.76 L251.60,91.47 L252.39,91.18 L253.19,90.90 L253.98,90.62 L254.77,90.33 L255.56,90.05 L256.35,89.77 L257.14,89.49 L257.93,89.21 L258.72,88.94 L259.51,88.66 L260.31,88.38 L261.10,88.11 L261.89,87.84 L262.68,87.56 L263.47,87.29 L264.26,87.02 L265.05,86.75 L265.84,86.48 L266.63,86.21 L267.42,85.94 L268.21,85.67 L269.00,85.41 L269.79,85.14 L270.58,84.88 L271.37,84.62 L272.15,84.35 L272.94,84.09 L273.73,83.83 L274.52,83.57 L275.31,83.31 L276.09,83.05 L276.88,82.79 L277.67,82.54 L278.45,82.28 L279.24,82.02 L280.03,81.77 L280.81,81.52 L281.60,81.26 L282.38,81.01 L283.17,80.76 L283.95,80.51 L284.73,80.26 L285.52,80.01 L286.30,79.76 L287.08,79.51 L287.86,79.26 L288.64,79.02 L289.42,78.77 L290.20,78.52 L290.98,78.28 L291.76,78.03 L292.54,77.79 L293.32,77.55 L294.10,77.31 L294.87,77.06 L295.65,76.82 L296.42,76.58 L297.20,76.34 L297.97,76.11 L298.75,75.87 L299.52,75.63 L300.29,75.39 L301.06,75.16 L301.84,74.92 L302.61,74.68 L303.38,74.45 L304.15,74.21 L304.91,73.98 L305.68,73.75 L306.45,73.52 L307.21,73.28 L307.98,73.05 L308.74,72.82 L309.51,72.59 L310.27,72.36 L311.03,72.13 L311.79,71.90 L312.55,71.67 L313.31,71.45 L314.07,71.22 L314.83,70.99 L315.59,70.76 L316.34,70.54" stroke="#008000" stroke-width="2.2" fill="none"/>
<path d="M69.34,262.28 L69.46,261.38 L69.60,260.48 L69.73,259.59 L69.87,258.70 L70.01,257.82 L70.16,256.93 L70.31,256.05 L70.47,255.17 L70.63,254.30 L70.79,253.43 L70.96,252.56 L71.13,251.69 L71.31,250.82 L71.49,249.96 L71.68,249.10 L71.87,248.25 L72.06,247.39 L72.26,246.54 L72.46,245.69 L72.67,244.84 L72.88,244.00 L73.09,243.16 L73.31,242.32 L73.53,241.49 L73.76,240.65 L73.99,239.82 L74.22,239.00 L74.46,238.17 L74.70,237.35 L74.95,236.53 L75.20,235.71 L75.45,234.90 L75.71,234.08 L75.97,233.27 L76.24,232.47 L76.50,231.66 L76.78,230.86 L77.05,230.06 L77.34,229.26 L77.62,228.47 L77.91,227.68 L78.20,226.89 L78.50,226.10 L78.80,225.32 L79.10,224.54 L79.41,223.76 L79.72,222.98 L80.03,222.21 L80.35,221.44 L80.67,220.67 L81.00,219.90 L81.33,219.14 L81.66,218.37 L81.99,217.61 L82.33,216.86 L82.68,216.10 L83.02,215.35 L83.37,214.60 L83.73,213.86 L84.09,213.11 L84.45,212.37 L84.81,211.63 L85.18,210.89 L85.55,210.16 L85.93,209.43 L86.30,208.70 L86.68,207.97 L87.07,207.24 L87.46,206.52 L87.85,205.80 L88.25,205.08 L88.64,204.37 L89.05,203.65 L89.45,202.94 L89.86,202.23 L90.27,201.53 L90.69,200.83 L91.10,200.12 L91.52,199.43 L91.95,198.73 L92.38,198.03 L92.81,197.34 L93.24,196.65 L93.68,195.97 L94.12,195.28 L94.56,194.60 L95.01,193.92 L95.46,193.24 L95.91,192.56 L96.37,191.89 L96.83,191.22 L97.29,190.55 L97.76,189.88 L98.22,189.22 L98.70,188.56 L99.17,187.90 L99.65,187.24 L100.13,186.59 L100.61,185.93 L101.10,185.28 L101.59,184.63 L102.08,183.99 L102.57,183.34 L103.07,182.70 L103.57,182.06 L104.07,181.43 L104.58,180.79 L105.09,180.16 L105.60,179.53 L106.12,178.90 L106.63,178.27 L107.15,177.65 L107.68,177.03 L108.20,176.41 L108.73,175.79 L109.26,175.17 L109.80,174.56 L110.33,173.95 L110.87,173.34 L111.41,172.73 L111.96,172.13 L112.50,171.53 L113.05,170.93 L113.61,170.33 L114.16,169.73 L114.72,169.14 L115.28,168.54 L115.84,167.95 L116.41,167.37 L116.97,166.78 L117.54,166.20 L118.12,165.62 L118.69,165.04 L119.27,164.46 L119.85,163.88 L120.43,163.31 L121.02,162.74 L121.60,162.17 L122.19,161.60 L122.78,161.04 L123.38,160.48 L123.97,159.92 L124.57,159.36 L125.17,158.80 L125.78,158.25 L126.38,157.69 L126.99,157.14 L127.60,156.59 L128.21,156.05 L128.83,155.50 L129.45,154.96 L130.07,154.42 L130.69,153.88 L131.31,153.34 L131.94,152.81 L132.56,152.28 L133.19,151.74 L133.83,151.22 L134.46,150.69 L135.10,150.16 L135.73,149.64 L136.37,149.12 L137.02,148.60 L137.66,148.08 L138.31,147.57 L138.96,147.05 L139.61,146.54 L140.26,146.03 L140.91,145.52 L141.57,145.02 L142.23,144.51 L142.89,144.01 L143.55,143.51 L144.21,143.01 L144.88,142.52 L145.55,142.02 L146.21,141.53 L146.89,141.04 L147.56,140.55 L148.23,140.06 L148.91,139.58 L149.59,139.10 L150.27,138.61 L150.95,138.13 L151.63,137.66 L152.32,137.18 L153.01,136.71 L153.69,136.23 L154.38,135.76 L155.08,135.29 L155.77,134.83 L156.47,134.36 L157.16,133.90 L157.86,133.44 L158.56,132.98 L159.26,132.52 L159.96,132.06 L160.67,131.61 L161.38,131.15 L162.08,130.70 L162.79,130.25 L163.50,129.80 L164.22,129.36 L164.93,128.91 L165.64,128.47 L166.36,128.03 L167.08,127.59 L167.80,127.15 L168.52,126.72 L169.24,126.28 L169.96,125.85 L170.69,125.42 L171.41,124.99 L172.14,124.56 L172.87,124.14 L173.60,123.72 L174.33,123.29 L175.06,122.87 L175.80,122.45 L176.53,122.04 L177.27,121.62 L178.00,121.21 L178.74,120.79 L179.48,120.38 L180.22,119.97 L180.96,119.57 L181.71,119.16 L182.45,118.76 L183.20,118.35 L183.94,117.95 L184.69,117.55 L185.44,117.15 L186.19,116.76 L186.94,116.36 L187.69,115.97 L188.44,115.58 L189.20,115.19 L189.95,114.80 L190.71,114.41 L191.46,114.03 L192.22,113.64 L192.98,113.26 L193.74,112.88 L194.50,112.50 L195.26,112.12 L196.02,111.74 L196.79,111.37 L197.55,110.99 L198.32,110.62 L199.08,110.25 L199.85,109.88 L200.62,109.51 L201.38,109.15 L202.15,108.78 L202.92,108.42 L203.69,108.06 L204.47,107.69 L205.24,107.33 L206.01,106.98 L206.78,106.62 L207.56,106.26 L208.33,105.91 L209.11,105.56 L209.89,105.21 L210.66,104.85 L211.44,104.51 L212.22,104.16 L213.00,103.81 L213.78,103.47 L214.56,103.12 L215.34,102.78 L216.12,102.44 L216.91,102.10 L217.69,101.76 L218.47,101.43 L219.26,101.09 L220.04,100.75 L220.83,100.42 L221.61,100.09 L222.40,99.76 L223.19,99.43 L223.97,99.10 L224.76,98.77 L225.55,98.45 L226.34,98.12 L227.13,97.80 L227.92,97.47 L228.71,97.15 L229.50,96.83 L230.29,96.51 L231.08,96.20 L231.87,95.88 L232.66,95.56 L233.46,95.25 L234.25,94.93 L235.04,94.62 L235.83,94.31 L236.63,94.00 L237.42,93.69 L238.22,93.38 L239.01,93.08 L239.81,92.77 L240.60,92.47 L241.40,92.16 L242.19,91.86 L242.99,91.56 L243.78,91.26 L244.58,90.96 L245.38,90.66 L246.17,90.36 L246.97,90.06 L247.77,89.77 L248.56,89.47 L249.36,89.18 L250.16,88.89 L250.95,88.60 L251.75,88.31 L252.55,88.02 L253.35,87.73 L254.14,87.44 L254.94,87.15 L255.74,86.87 L256.54,86.58 L257.33,86.30 L258.13,86.01 L258.93,85.73 L259.73,85.45 L260.53,85.17 L261.32,84.89 L262.12,84.61 L262.92,84.33 L263.72,84.06 L264.51,83.78 L265.31,83.50 L266.11,83.23 L266.90,82.95 L267.70,82.68 L268.50,82.41 L269.29,82.14 L270.09,81.87 L270.89,81.60 L271.68,81.33 L272.48,81.06 L273.27,80.79 L274.07,80.53 L274.86,80.26 L275.66,79.99 L276.45,79.73 L277.25,79.47 L278.04,79.20 L278.83,78.94 L279.63,78.68 L280.42,78.42 L281.21,78.16 L282.01,77.90 L282.80,77.64 L283.59,77.38 L284.38,77.12 L285.17,76.87 L285.96,76.61 L286.75,76.35 L287.54,76.10 L288.33,75.84 L289.12,75.59 L289.91,75.34 L290.69,75.09 L291.48,74.83 L292.27,74.58 L293.05,74.33 L293.84,74.08 L294.63,73.83 L295.41,73.58 L296.19,73.33 L296.98,73.09 L297.76,72.84 L298.54,72.59 L299.32,72.35 L300.11,72.10 L300.89,71.85 L301.67,71.61 L302.45,71.37 L303.22,71.12 L304.00,70.88 L304.78,70.64 L305.56,70.39 L306.33,70.15 L307.11,69.91 L307.88,69.67 L308.65,69.43 L309.43,69.19 L310.20,68.95 L310.97,68.71 L311.74,68.47 L312.51,68.23 L313.28,67.99 L314.05,67.76 L314.82,67.52 L315.58,67.28 L316.35,67.04" stroke="#008000" stroke-width="2.2" stroke-dasharray="6.7,2.9" fill="none"/>
</g>
<path d="M316.40,62.85 L317.40,65.72 L320.44,65.79 L318.02,67.63 L318.90,70.54 L316.40,68.80 L313.90,70.54 L314.78,67.63 L312.36,65.79 L315.40,65.72Z M316.40,66.35 L317.40,69.22 L320.44,69.29 L318.02,71.13 L318.90,74.04 L316.40,72.30 L313.90,74.04 L314.78,71.13 L312.36,69.29 L315.40,69.22Z M316.40,75.95 L317.40,78.82 L320.44,78.89 L318.02,80.73 L318.90,83.64 L316.40,81.90 L313.90,83.64 L314.78,80.73 L312.36,78.89 L315.40,78.82Z" fill="#ff7f0e" stroke="#ff7f0e" stroke-width="0.8" stroke-linejoin="miter"/>
<path d="M68.88,262.2 v-3.4 M68.88,2.4 v3.4 M130.82,262.2 v-3.4 M130.82,2.4 v3.4 M192.77,262.2 v-3.4 M192.77,2.4 v3.4 M254.71,262.2 v-3.4 M254.71,2.4 v3.4 M316.66,262.2 v-3.4 M316.66,2.4 v3.4 M378.60,262.2 v-3.4 M378.60,2.4 v3.4 M44.1,262.20 h3.4 M378.6,262.20 h-3.4 M44.1,149.29 h3.4 M378.6,149.29 h-3.4 M44.1,36.39 h3.4 M378.6,36.39 h-3.4" stroke="#000" stroke-width="0.8" fill="none"/>
<path d="M44.1,228.21 h2.0 M378.6,228.21 h-2.0 M44.1,208.33 h2.0 M378.6,208.33 h-2.0 M44.1,194.22 h2.0 M378.6,194.22 h-2.0 M44.1,183.28 h2.0 M378.6,183.28 h-2.0 M44.1,174.34 h2.0 M378.6,174.34 h-2.0 M44.1,166.78 h2.0 M378.6,166.78 h-2.0 M44.1,160.24 h2.0 M378.6,160.24 h-2.0 M44.1,154.46 h2.0 M378.6,154.46 h-2.0 M44.1,115.31 h2.0 M378.6,115.31 h-2.0 M44.1,95.42 h2.0 M378.6,95.42 h-2.0 M44.1,81.32 h2.0 M378.6,81.32 h-2.0 M44.1,70.38 h2.0 M378.6,70.38 h-2.0 M44.1,61.44 h2.0 M378.6,61.44 h-2.0 M44.1,53.88 h2.0 M378.6,53.88 h-2.0 M44.1,47.33 h2.0 M378.6,47.33 h-2.0 M44.1,41.55 h2.0 M378.6,41.55 h-2.0 M44.1,2.40 h2.0 M378.6,2.40 h-2.0" stroke="#000" stroke-width="0.55" fill="none"/>
<rect x="44.1" y="2.4" width="334.5" height="259.8" fill="none" stroke="#000" stroke-width="0.8"/>
<!-- legend -->
<rect x="243" y="162.7" width="130.6" height="94.4" rx="2.2" ry="2.2" fill="#fff" fill-opacity="0.8" stroke="#cccccc" stroke-opacity="0.8" stroke-width="0.8"/>
<rect x="246.8" y="167.2" width="21.3" height="7.8" fill="#ccccff"/>
<rect x="246.8" y="181.7" width="21.3" height="7.8" fill="#ffcccc" stroke="#ff9d9d" stroke-width="0.7" stroke-dasharray="0.8,0.8"/>
<path d="M246.8,202.4 h21.3" stroke="#008000" stroke-width="2.2" stroke-dasharray="11.6,2.9,1.8,2.9"/>
<path d="M246.8,217.6 h21.3" stroke="#008000" stroke-width="2.2"/>
<path d="M246.8,232.8 h21.3" stroke="#008000" stroke-width="2.2" stroke-dasharray="6.7,2.9"/>
<path d="M257.50,243.45 L258.50,246.32 L261.54,246.39 L259.12,248.23 L260.00,251.14 L257.50,249.40 L255.00,251.14 L255.88,248.23 L253.46,246.39 L256.50,246.32Z" fill="#ff7f0e" stroke="#ff7f0e" stroke-width="0.8" stroke-linejoin="miter"/>
<g font-size="10.2px" fill="#000">
<text x="276.2" y="174.7">LQCD A</text>
<text x="276.2" y="189.4">LQCD B</text>
<text x="276.2" y="206.3" font-style="italic">P</text>
<text x="283.5" y="201.6" font-size="7.1px">pQCD</text>
<text x="283.5" y="209.6" font-size="7.1px">max</text>
<text x="303.5" y="206.3">(<tspan font-style="italic">μ</tspan></text>
<text x="313.1" y="208.2" font-size="7.1px">B</text>
<text x="318.6" y="206.3">)</text>
<text x="326.4" y="206.3" word-spacing="1.4px" letter-spacing="0.15px">(<tspan font-style="italic">X</tspan> = 1/2)</text>
<text x="276.2" y="220.9" word-spacing="0.8px"><tspan font-style="italic">X</tspan> = 1</text>
<text x="276.2" y="235.7" word-spacing="0.8px"><tspan font-style="italic">X</tspan> = 2</text>
<text x="276.2" y="250.7">pQCD points</text>
</g>
<!-- annotation -->
<text x="193.3" y="30.8" font-size="13.5px">Excluded by LQCD</text>
<!-- tick labels -->
<g font-size="11.85px" text-anchor="middle">
<text x="68.88" y="273.9">1000</text>
<text x="130.82" y="273.9">1500</text>
<text x="192.77" y="273.9">2000</text>
<text x="254.71" y="273.9">2500</text>
<text x="316.66" y="273.9">3000</text>
<text x="378.60" y="273.9">3500</text>
</g>
<g font-size="11.85px">
<text x="22.4" y="43.09">10<tspan font-size="8.4px" dy="-7.8">4</tspan></text>
<text x="22.4" y="155.99">10<tspan font-size="8.4px" dy="-7.8">3</tspan></text>
<text x="22.4" y="268.90">10<tspan font-size="8.4px" dy="-7.8">2</tspan></text>
</g>
<!-- axis labels -->
<text x="211.3" y="289.5" font-size="13.95px" text-anchor="middle"><tspan font-style="italic">μ</tspan><tspan font-size="9.9px" dy="2.2">B</tspan><tspan dy="-2.2"> [MeV]</tspan></text>
<text transform="translate(14.6,132.7) rotate(-90)" font-size="13.95px" text-anchor="middle"><tspan font-style="italic">P</tspan> [MeV/fm<tspan font-size="9.9px" dy="-4.8">3</tspan><tspan dy="4.8">]</tspan></text>
</svg>
</body></html>
